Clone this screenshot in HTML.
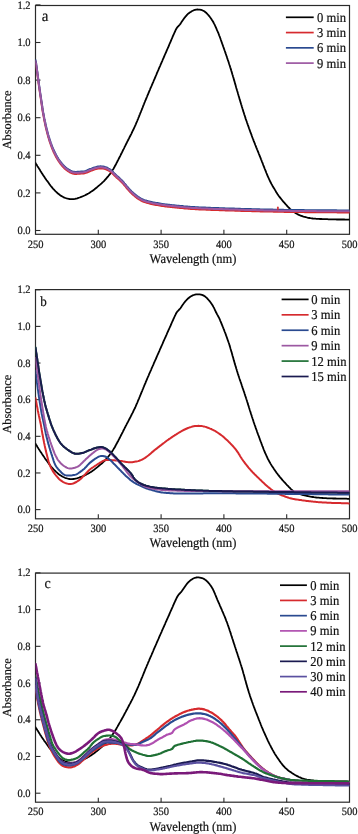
<!DOCTYPE html>
<html><head><meta charset="utf-8"><style>html,body{margin:0;padding:0;background:#fff;width:358px;height:834px;overflow:hidden}svg{display:block;will-change:transform} text{font-family:"Liberation Serif",serif;text-rendering:geometricPrecision;stroke:#222;stroke-width:0.2px;paint-order:stroke}</style></head>
<body><svg width="358" height="834" viewBox="0 0 358 834">
<rect width="358" height="834" fill="#fff"/>
<clipPath id="clipa"><rect x="35.5" y="5.5" width="314.0" height="228.8"/></clipPath>
<rect x="35.5" y="5.5" width="314.0" height="228.8" fill="none" stroke="#2a2a2a" stroke-width="1.2"/>
<line x1="35.5" y1="230.50" x2="40.5" y2="230.50" stroke="#2a2a2a" stroke-width="1.1"/>
<text transform="translate(30.50,234.10) scale(1,1.070)" text-anchor="end" font-size="10.50" fill="#111">0.0</text>
<line x1="35.5" y1="192.90" x2="40.5" y2="192.90" stroke="#2a2a2a" stroke-width="1.1"/>
<text transform="translate(30.50,196.50) scale(1,1.070)" text-anchor="end" font-size="10.50" fill="#111">0.2</text>
<line x1="35.5" y1="155.30" x2="40.5" y2="155.30" stroke="#2a2a2a" stroke-width="1.1"/>
<text transform="translate(30.50,158.90) scale(1,1.070)" text-anchor="end" font-size="10.50" fill="#111">0.4</text>
<line x1="35.5" y1="117.70" x2="40.5" y2="117.70" stroke="#2a2a2a" stroke-width="1.1"/>
<text transform="translate(30.50,121.30) scale(1,1.070)" text-anchor="end" font-size="10.50" fill="#111">0.6</text>
<line x1="35.5" y1="80.10" x2="40.5" y2="80.10" stroke="#2a2a2a" stroke-width="1.1"/>
<text transform="translate(30.50,83.70) scale(1,1.070)" text-anchor="end" font-size="10.50" fill="#111">0.8</text>
<line x1="35.5" y1="42.50" x2="40.5" y2="42.50" stroke="#2a2a2a" stroke-width="1.1"/>
<text transform="translate(30.50,46.10) scale(1,1.070)" text-anchor="end" font-size="10.50" fill="#111">1.0</text>
<line x1="35.5" y1="4.90" x2="40.5" y2="4.90" stroke="#2a2a2a" stroke-width="1.1"/>
<text transform="translate(30.50,8.50) scale(1,1.070)" text-anchor="end" font-size="10.50" fill="#111">1.2</text>
<text transform="translate(35.50,247.50) scale(1,1.070)" text-anchor="middle" font-size="10.50" fill="#111">250</text>
<line x1="98.30" y1="234.3" x2="98.30" y2="229.8" stroke="#2a2a2a" stroke-width="1.1"/>
<text transform="translate(98.30,247.50) scale(1,1.070)" text-anchor="middle" font-size="10.50" fill="#111">300</text>
<line x1="161.10" y1="234.3" x2="161.10" y2="229.8" stroke="#2a2a2a" stroke-width="1.1"/>
<text transform="translate(161.10,247.50) scale(1,1.070)" text-anchor="middle" font-size="10.50" fill="#111">350</text>
<line x1="223.90" y1="234.3" x2="223.90" y2="229.8" stroke="#2a2a2a" stroke-width="1.1"/>
<text transform="translate(223.90,247.50) scale(1,1.070)" text-anchor="middle" font-size="10.50" fill="#111">400</text>
<line x1="286.70" y1="234.3" x2="286.70" y2="229.8" stroke="#2a2a2a" stroke-width="1.1"/>
<text transform="translate(286.70,247.50) scale(1,1.070)" text-anchor="middle" font-size="10.50" fill="#111">450</text>
<text transform="translate(349.50,247.50) scale(1,1.070)" text-anchor="middle" font-size="10.50" fill="#111">500</text>
<path d="M35.5,163.0 36.1,164.0 36.8,165.0 37.4,166.1 38.0,167.1 38.7,168.1 39.3,169.1 40.0,170.1 40.6,171.2 41.3,172.2 41.9,173.2 42.6,174.2 43.2,175.2 43.9,176.2 44.6,177.2 45.2,178.2 45.9,179.2 46.6,180.2 47.3,181.1 48.0,182.1 48.7,183.1 49.4,184.1 50.1,185.0 50.8,186.0 51.6,186.9 52.4,187.9 53.2,188.8 54.0,189.6 54.8,190.5 55.6,191.4 56.5,192.2 57.4,193.0 58.3,193.8 59.3,194.5 60.2,195.2 61.2,195.9 62.3,196.5 63.3,197.1 64.4,197.6 65.5,198.0 66.7,198.4 67.8,198.7 69.0,199.0 70.2,199.1 71.4,199.2 72.6,199.2 73.8,199.1 75.0,198.9 76.1,198.6 77.3,198.3 78.4,197.9 79.6,197.5 80.7,197.1 81.8,196.7 82.9,196.2 84.0,195.7 85.1,195.2 86.2,194.6 87.2,194.1 88.3,193.5 89.3,192.9 90.3,192.2 91.3,191.6 92.3,190.9 93.3,190.2 94.3,189.5 95.2,188.7 96.1,188.0 97.1,187.2 98.0,186.4 98.9,185.6 99.8,184.9 100.7,184.1 101.6,183.3 102.5,182.4 103.4,181.6 104.2,180.8 105.0,179.9 105.9,179.0 106.6,178.1 107.4,177.2 108.2,176.3 108.9,175.3 109.7,174.4 110.4,173.4 111.1,172.4 111.8,171.4 112.4,170.4 113.0,169.4 113.7,168.4 114.3,167.3 114.8,166.3 115.4,165.2 116.0,164.2 116.5,163.1 117.1,162.0 117.6,161.0 118.2,159.9 118.7,158.8 119.3,157.8 119.8,156.7 120.4,155.6 120.9,154.5 121.4,153.5 122.0,152.4 122.5,151.3 123.0,150.2 123.6,149.1 124.1,148.1 124.6,147.0 125.2,145.9 125.7,144.8 126.2,143.8 126.8,142.7 127.3,141.6 127.9,140.5 128.4,139.5 129.0,138.4 129.5,137.3 130.1,136.3 130.6,135.2 131.2,134.1 131.7,133.0 132.2,132.0 132.7,130.9 133.3,129.8 133.8,128.7 134.3,127.6 134.8,126.5 135.3,125.4 135.8,124.3 136.2,123.2 136.7,122.1 137.2,121.0 137.6,119.9 138.1,118.8 138.5,117.7 139.0,116.6 139.4,115.4 139.9,114.3 140.3,113.2 140.8,112.1 141.2,111.0 141.7,109.9 142.1,108.7 142.6,107.6 143.0,106.5 143.4,105.4 143.9,104.3 144.3,103.2 144.8,102.0 145.2,100.9 145.7,99.8 146.2,98.7 146.6,97.6 147.1,96.5 147.5,95.4 148.0,94.3 148.5,93.2 148.9,92.1 149.4,90.9 149.9,89.8 150.3,88.7 150.8,87.6 151.3,86.5 151.8,85.4 152.2,84.3 152.7,83.2 153.2,82.1 153.6,81.0 154.1,79.9 154.6,78.8 155.1,77.7 155.5,76.6 156.0,75.5 156.5,74.4 156.9,73.2 157.4,72.1 157.9,71.0 158.4,69.9 158.8,68.8 159.3,67.7 159.8,66.6 160.3,65.5 160.7,64.4 161.2,63.3 161.7,62.2 162.2,61.1 162.6,60.0 163.1,58.9 163.6,57.8 164.1,56.7 164.5,55.6 165.0,54.5 165.5,53.4 166.0,52.3 166.5,51.2 166.9,50.1 167.4,49.0 167.9,47.9 168.4,46.8 168.9,45.7 169.3,44.5 169.8,43.4 170.3,42.3 170.8,41.2 171.2,40.1 171.7,39.0 172.2,37.9 172.6,36.8 173.1,35.7 173.6,34.6 174.1,33.5 174.6,32.4 175.1,31.3 175.6,30.2 176.1,29.2 176.7,28.1 177.4,27.2 178.2,26.3 179.1,25.4 179.9,24.5 180.6,23.6 181.2,22.6 181.9,21.6 182.6,20.6 183.3,19.6 184.0,18.6 184.7,17.6 185.4,16.7 186.2,15.8 187.0,14.9 187.8,14.0 188.8,13.3 189.7,12.5 190.7,11.9 191.7,11.2 192.8,10.7 193.9,10.2 195.0,9.9 196.2,9.6 197.4,9.5 198.6,9.6 199.8,9.7 201.0,9.9 202.1,10.2 203.2,10.7 204.3,11.3 205.2,12.0 206.1,12.7 207.0,13.6 207.8,14.5 208.6,15.4 209.4,16.3 210.1,17.3 210.8,18.2 211.5,19.2 212.1,20.2 212.8,21.2 213.4,22.3 213.9,23.4 214.5,24.4 215.0,25.5 215.5,26.6 216.0,27.7 216.5,28.8 216.9,29.9 217.4,31.0 217.9,32.1 218.4,33.2 218.8,34.3 219.2,35.5 219.7,36.6 220.1,37.7 220.5,38.8 220.9,40.0 221.3,41.1 221.7,42.2 222.1,43.4 222.5,44.5 222.9,45.6 223.3,46.8 223.7,47.9 224.1,49.0 224.5,50.2 224.9,51.3 225.3,52.4 225.7,53.6 226.1,54.7 226.5,55.9 226.9,57.0 227.2,58.1 227.6,59.3 228.0,60.4 228.4,61.5 228.8,62.7 229.1,63.8 229.5,65.0 229.9,66.1 230.2,67.3 230.6,68.4 231.0,69.6 231.3,70.7 231.7,71.9 232.0,73.0 232.3,74.2 232.7,75.3 233.0,76.5 233.4,77.6 233.7,78.8 234.0,79.9 234.4,81.1 234.7,82.2 235.0,83.4 235.4,84.6 235.7,85.7 236.0,86.9 236.3,88.0 236.7,89.2 237.0,90.3 237.4,91.5 237.7,92.6 238.0,93.8 238.4,95.0 238.7,96.1 239.1,97.3 239.4,98.4 239.7,99.6 240.1,100.7 240.4,101.9 240.8,103.0 241.1,104.2 241.5,105.3 241.8,106.5 242.2,107.6 242.5,108.8 242.9,109.9 243.2,111.1 243.6,112.2 244.0,113.4 244.3,114.5 244.7,115.6 245.1,116.8 245.4,117.9 245.8,119.1 246.2,120.2 246.6,121.3 247.0,122.5 247.4,123.6 247.8,124.8 248.2,125.9 248.6,127.0 249.0,128.2 249.4,129.3 249.8,130.4 250.2,131.5 250.6,132.7 251.1,133.8 251.5,134.9 251.9,136.1 252.3,137.2 252.7,138.3 253.2,139.4 253.6,140.6 254.0,141.7 254.5,142.8 254.9,143.9 255.3,145.0 255.8,146.1 256.2,147.3 256.7,148.4 257.1,149.5 257.6,150.6 258.0,151.7 258.5,152.8 258.9,154.0 259.4,155.1 259.8,156.2 260.3,157.3 260.7,158.4 261.1,159.5 261.6,160.7 262.0,161.8 262.5,162.9 262.9,164.0 263.3,165.1 263.8,166.3 264.2,167.4 264.6,168.5 265.1,169.6 265.5,170.7 266.0,171.9 266.4,173.0 266.9,174.1 267.3,175.2 267.8,176.3 268.3,177.4 268.8,178.5 269.3,179.6 269.8,180.7 270.3,181.8 270.9,182.8 271.4,183.9 272.0,184.9 272.6,186.0 273.2,187.0 273.8,188.1 274.5,189.1 275.1,190.1 275.7,191.1 276.3,192.2 277.0,193.2 277.6,194.2 278.3,195.2 279.0,196.2 279.7,197.1 280.5,198.1 281.2,199.0 282.0,200.0 282.7,200.9 283.5,201.8 284.3,202.7 285.1,203.6 285.9,204.5 286.7,205.4 287.5,206.3 288.3,207.2 289.2,208.0 290.0,208.8 290.9,209.6 291.9,210.4 292.8,211.1 293.8,211.9 294.8,212.5 295.8,213.2 296.8,213.8 297.9,214.4 298.9,214.9 300.1,215.4 301.2,215.8 302.3,216.2 303.4,216.6 304.6,216.9 305.8,217.2 306.9,217.5 308.1,217.8 309.3,218.0 310.5,218.2 311.7,218.3 312.9,218.5 314.1,218.6 315.3,218.7 316.5,218.8 317.7,218.8 318.9,218.9 320.1,219.0 321.3,219.0 322.5,219.1 323.7,219.1 324.9,219.1 326.1,219.2 327.3,219.2 328.5,219.3 329.7,219.3 330.9,219.3 332.1,219.4 333.3,219.4 334.5,219.4 335.7,219.4 336.9,219.5 338.1,219.5 339.3,219.5 340.5,219.5 341.7,219.5 342.9,219.5 344.1,219.5 345.3,219.6 346.5,219.6 347.7,219.6 348.9,219.6 349.5,219.6" fill="none" stroke="#000000" stroke-width="1.80" stroke-linejoin="round" stroke-linecap="round" clip-path="url(#clipa)"/>
<path d="M35.5,62.1 35.7,63.3 36.0,64.5 36.2,65.6 36.3,66.8 36.5,68.0 36.7,69.2 36.9,70.4 37.0,71.6 37.2,72.8 37.4,74.0 37.5,75.2 37.7,76.4 37.8,77.6 38.0,78.7 38.1,79.9 38.3,81.1 38.5,82.3 38.6,83.5 38.8,84.7 38.9,85.9 39.1,87.1 39.3,88.3 39.5,89.5 39.6,90.7 39.8,91.9 40.0,93.0 40.1,94.2 40.3,95.4 40.5,96.6 40.7,97.8 40.9,99.0 41.0,100.2 41.2,101.4 41.4,102.6 41.6,103.8 41.7,105.0 41.9,106.1 42.1,107.3 42.3,108.5 42.4,109.7 42.6,110.9 42.8,112.1 43.0,113.3 43.2,114.5 43.5,115.6 43.7,116.8 43.9,118.0 44.1,119.2 44.3,120.4 44.6,121.5 44.8,122.7 45.1,123.9 45.3,125.1 45.6,126.3 45.8,127.4 46.1,128.6 46.4,129.8 46.7,130.9 47.0,132.1 47.3,133.3 47.6,134.4 47.9,135.6 48.2,136.8 48.6,137.9 48.9,139.1 49.3,140.2 49.6,141.4 50.0,142.5 50.4,143.6 50.8,144.8 51.2,145.9 51.6,147.0 52.0,148.2 52.5,149.3 53.0,150.4 53.4,151.5 53.9,152.6 54.5,153.7 55.0,154.7 55.5,155.8 56.1,156.9 56.7,157.9 57.3,159.0 57.9,160.0 58.5,161.0 59.2,162.0 59.9,163.0 60.6,164.0 61.4,164.9 62.1,165.8 62.9,166.7 63.8,167.6 64.6,168.5 65.5,169.3 66.4,170.0 67.4,170.7 68.4,171.4 69.4,172.0 70.5,172.6 71.6,173.1 72.7,173.5 73.9,173.7 75.1,173.9 76.3,173.9 77.5,173.8 78.7,173.8 79.9,173.7 81.1,173.6 82.3,173.5 83.5,173.4 84.6,173.2 85.8,172.9 86.9,172.5 88.0,172.0 89.1,171.5 90.2,171.0 91.4,170.6 92.5,170.2 93.6,169.8 94.8,169.4 95.9,169.1 97.1,168.8 98.2,168.5 99.4,168.4 100.6,168.3 101.8,168.4 103.0,168.6 104.2,168.8 105.3,169.1 106.5,169.5 107.6,170.0 108.6,170.6 109.7,171.2 110.6,171.9 111.6,172.6 112.5,173.5 113.3,174.3 114.1,175.2 115.0,176.0 115.9,176.9 116.7,177.7 117.7,178.5 118.6,179.3 119.5,180.1 120.3,180.9 121.2,181.7 122.0,182.6 122.9,183.4 123.7,184.4 124.4,185.3 125.2,186.2 126.0,187.1 126.7,188.1 127.5,189.0 128.3,189.9 129.1,190.8 129.9,191.7 130.7,192.5 131.6,193.4 132.5,194.2 133.3,195.0 134.3,195.8 135.2,196.6 136.1,197.3 137.1,198.1 138.1,198.8 139.1,199.4 140.1,200.0 141.1,200.6 142.2,201.2 143.3,201.6 144.4,202.1 145.6,202.4 146.7,202.8 147.9,203.1 149.0,203.4 150.2,203.7 151.4,204.0 152.6,204.3 153.7,204.5 154.9,204.7 156.1,204.9 157.3,205.1 158.5,205.3 159.7,205.5 160.9,205.7 162.0,205.9 163.2,206.1 164.4,206.2 165.6,206.4 166.8,206.5 168.0,206.7 169.2,206.8 170.4,206.9 171.6,207.1 172.8,207.2 174.0,207.3 175.2,207.4 176.4,207.6 177.6,207.7 178.8,207.8 180.0,207.9 181.2,208.0 182.4,208.1 183.6,208.3 184.8,208.4 186.0,208.5 187.2,208.6 188.4,208.7 189.6,208.8 190.8,208.9 192.0,209.0 193.2,209.0 194.4,209.1 195.6,209.2 196.8,209.2 198.0,209.3 199.2,209.4 200.4,209.4 201.6,209.5 202.8,209.5 204.0,209.6 205.2,209.6 206.4,209.7 207.6,209.7 208.8,209.8 210.0,209.8 211.2,209.9 212.4,209.9 213.6,210.0 214.8,210.0 216.0,210.0 217.2,210.1 218.4,210.1 219.6,210.2 220.8,210.2 222.0,210.2 223.2,210.3 224.4,210.3 225.6,210.4 226.8,210.4 228.0,210.4 229.2,210.5 230.4,210.5 231.6,210.6 232.8,210.6 234.0,210.6 235.2,210.7 236.4,210.7 237.6,210.7 238.8,210.8 240.0,210.8 241.2,210.9 242.4,210.9 243.6,210.9 244.9,211.0 246.1,211.0 247.3,211.0 248.5,211.1 249.7,211.1 250.9,211.1 252.1,211.2 253.3,211.2 254.5,211.2 255.7,211.2 256.9,211.3 258.1,211.3 259.3,211.3 260.5,211.4 261.7,211.4 262.9,211.4 264.1,211.5 265.3,211.5 266.5,211.5 267.7,211.5 268.9,211.6 270.1,211.6 271.3,211.6 272.5,211.6 273.7,211.7 274.9,211.7 276.1,211.7 277.3,211.7 278.5,211.8 279.7,211.8 280.9,211.8 282.1,211.8 283.3,211.8 284.5,211.9 285.7,211.9 286.9,211.9 288.1,211.9 289.4,211.9 290.6,212.0 291.8,212.0 293.0,212.0 294.2,212.0 295.4,212.0 296.6,212.1 297.8,212.1 299.0,212.1 300.2,212.1 301.4,212.1 302.6,212.1 303.8,212.1 305.0,212.2 306.2,212.2 307.4,212.2 308.6,212.2 309.8,212.2 311.0,212.2 312.2,212.2 313.4,212.2 314.6,212.2 315.8,212.2 317.0,212.3 318.2,212.3 319.4,212.3 320.6,212.3 321.8,212.3 323.0,212.3 324.2,212.3 325.4,212.3 326.6,212.3 327.8,212.3 329.0,212.3 330.3,212.3 331.5,212.3 332.7,212.3 333.9,212.3 335.1,212.3 336.3,212.3 337.5,212.4 338.7,212.4 339.9,212.4 341.1,212.4 342.3,212.4 343.5,212.4 344.7,212.4 345.9,212.4 347.1,212.4 348.3,212.4 349.5,212.4" fill="none" stroke="#d62a2e" stroke-width="2.00" stroke-linejoin="round" stroke-linecap="round" clip-path="url(#clipa)"/>
<path d="M35.5,60.1 35.7,61.3 36.0,62.5 36.2,63.6 36.3,64.8 36.5,66.0 36.7,67.2 36.9,68.4 37.0,69.6 37.2,70.8 37.4,72.0 37.5,73.2 37.7,74.4 37.8,75.6 38.0,76.7 38.1,77.9 38.3,79.1 38.5,80.3 38.6,81.5 38.8,82.7 38.9,83.9 39.1,85.1 39.3,86.3 39.5,87.5 39.6,88.7 39.8,89.9 40.0,91.0 40.1,92.2 40.3,93.4 40.5,94.6 40.7,95.8 40.9,97.0 41.0,98.2 41.2,99.4 41.4,100.6 41.6,101.8 41.7,103.0 41.9,104.1 42.1,105.3 42.3,106.5 42.4,107.7 42.6,108.9 42.8,110.1 43.0,111.3 43.2,112.5 43.5,113.6 43.7,114.8 43.9,116.0 44.1,117.2 44.3,118.4 44.6,119.5 44.8,120.7 45.1,121.9 45.3,123.1 45.6,124.3 45.8,125.4 46.1,126.6 46.4,127.8 46.7,128.9 47.0,130.1 47.3,131.3 47.6,132.4 47.9,133.6 48.2,134.8 48.6,135.9 48.9,137.1 49.3,138.2 49.6,139.4 50.0,140.5 50.4,141.6 50.8,142.8 51.2,143.9 51.6,145.0 52.0,146.2 52.5,147.3 53.0,148.4 53.4,149.5 53.9,150.6 54.5,151.7 55.0,152.7 55.5,153.8 56.1,154.9 56.7,155.9 57.3,157.0 57.9,158.0 58.5,159.0 59.2,160.0 59.9,161.0 60.6,162.0 61.4,162.9 62.1,163.8 62.9,164.7 63.8,165.6 64.6,166.5 65.5,167.3 66.4,168.0 67.4,168.7 68.4,169.4 69.4,170.0 70.5,170.6 71.6,171.1 72.7,171.5 73.9,171.7 75.1,171.9 76.3,171.9 77.5,171.8 78.7,171.8 79.9,171.7 81.1,171.6 82.3,171.5 83.5,171.4 84.6,171.2 85.8,170.9 86.9,170.5 88.0,170.0 89.1,169.5 90.2,169.0 91.4,168.6 92.5,168.2 93.6,167.8 94.8,167.4 95.9,167.1 97.1,166.8 98.2,166.5 99.4,166.4 100.6,166.3 101.8,166.4 103.0,166.6 104.2,166.8 105.3,167.1 106.5,167.5 107.6,168.0 108.6,168.6 109.7,169.2 110.6,169.9 111.6,170.6 112.5,171.5 113.3,172.3 114.1,173.2 115.0,174.0 115.9,174.9 116.7,175.7 117.7,176.5 118.6,177.3 119.5,178.1 120.3,178.9 121.2,179.7 122.0,180.6 122.9,181.4 123.7,182.4 124.4,183.3 125.2,184.2 126.0,185.1 126.7,186.1 127.5,187.0 128.3,187.9 129.1,188.8 129.9,189.7 130.7,190.5 131.6,191.4 132.5,192.2 133.3,193.0 134.3,193.8 135.2,194.6 136.1,195.3 137.1,196.1 138.1,196.8 139.1,197.4 140.1,198.0 141.1,198.6 142.2,199.2 143.3,199.6 144.4,200.1 145.6,200.4 146.7,200.8 147.9,201.1 149.0,201.4 150.2,201.7 151.4,202.0 152.6,202.3 153.7,202.5 154.9,202.7 156.1,202.9 157.3,203.1 158.5,203.3 159.7,203.5 160.9,203.7 162.0,203.9 163.2,204.1 164.4,204.2 165.6,204.4 166.8,204.5 168.0,204.7 169.2,204.8 170.4,204.9 171.6,205.1 172.8,205.2 174.0,205.3 175.2,205.4 176.4,205.6 177.6,205.7 178.8,205.8 180.0,205.9 181.2,206.0 182.4,206.1 183.6,206.3 184.8,206.4 186.0,206.5 187.2,206.6 188.4,206.7 189.6,206.8 190.8,206.9 192.0,207.0 193.2,207.0 194.4,207.1 195.6,207.2 196.8,207.2 198.0,207.3 199.2,207.4 200.4,207.4 201.6,207.5 202.8,207.5 204.0,207.6 205.2,207.6 206.4,207.7 207.6,207.7 208.8,207.8 210.0,207.8 211.2,207.9 212.4,207.9 213.6,208.0 214.8,208.0 216.0,208.0 217.2,208.1 218.4,208.1 219.6,208.2 220.8,208.2 222.0,208.2 223.2,208.3 224.4,208.3 225.6,208.4 226.8,208.4 228.0,208.4 229.2,208.5 230.4,208.5 231.6,208.6 232.8,208.6 234.0,208.6 235.2,208.7 236.4,208.7 237.6,208.7 238.8,208.8 240.0,208.8 241.2,208.9 242.4,208.9 243.6,208.9 244.9,209.0 246.1,209.0 247.3,209.0 248.5,209.1 249.7,209.1 250.9,209.1 252.1,209.2 253.3,209.2 254.5,209.2 255.7,209.2 256.9,209.3 258.1,209.3 259.3,209.3 260.5,209.4 261.7,209.4 262.9,209.4 264.1,209.5 265.3,209.5 266.5,209.5 267.7,209.5 268.9,209.6 270.1,209.6 271.3,209.6 272.5,209.6 273.7,209.7 274.9,209.7 276.1,209.7 277.3,209.7 278.5,209.8 279.7,209.8 280.9,209.8 282.1,209.8 283.3,209.8 284.5,209.9 285.7,209.9 286.9,209.9 288.1,209.9 289.4,209.9 290.6,210.0 291.8,210.0 293.0,210.0 294.2,210.0 295.4,210.0 296.6,210.1 297.8,210.1 299.0,210.1 300.2,210.1 301.4,210.1 302.6,210.1 303.8,210.1 305.0,210.2 306.2,210.2 307.4,210.2 308.6,210.2 309.8,210.2 311.0,210.2 312.2,210.2 313.4,210.2 314.6,210.2 315.8,210.2 317.0,210.3 318.2,210.3 319.4,210.3 320.6,210.3 321.8,210.3 323.0,210.3 324.2,210.3 325.4,210.3 326.6,210.3 327.8,210.3 329.0,210.3 330.3,210.3 331.5,210.3 332.7,210.3 333.9,210.3 335.1,210.3 336.3,210.3 337.5,210.4 338.7,210.4 339.9,210.4 341.1,210.4 342.3,210.4 343.5,210.4 344.7,210.4 345.9,210.4 347.1,210.4 348.3,210.4 349.5,210.4" fill="none" stroke="#2a4a90" stroke-width="2.00" stroke-linejoin="round" stroke-linecap="round" clip-path="url(#clipa)"/>
<path d="M35.5,61.0 35.7,62.2 36.0,63.4 36.2,64.5 36.3,65.7 36.5,66.9 36.7,68.1 36.9,69.3 37.0,70.5 37.2,71.7 37.4,72.9 37.5,74.1 37.7,75.3 37.8,76.5 38.0,77.6 38.1,78.8 38.3,80.0 38.5,81.2 38.6,82.4 38.8,83.6 38.9,84.8 39.1,86.0 39.3,87.2 39.5,88.4 39.6,89.6 39.8,90.8 40.0,91.9 40.1,93.1 40.3,94.3 40.5,95.5 40.7,96.7 40.9,97.9 41.0,99.1 41.2,100.3 41.4,101.5 41.6,102.7 41.7,103.9 41.9,105.0 42.1,106.2 42.3,107.4 42.4,108.6 42.6,109.8 42.8,111.0 43.0,112.2 43.2,113.4 43.5,114.5 43.7,115.7 43.9,116.9 44.1,118.1 44.3,119.3 44.6,120.4 44.8,121.6 45.1,122.8 45.3,124.0 45.6,125.2 45.8,126.3 46.1,127.5 46.4,128.7 46.7,129.8 47.0,131.0 47.3,132.2 47.6,133.3 47.9,134.5 48.2,135.7 48.6,136.8 48.9,138.0 49.3,139.1 49.6,140.3 50.0,141.4 50.4,142.5 50.8,143.7 51.2,144.8 51.6,145.9 52.0,147.1 52.5,148.2 53.0,149.3 53.4,150.4 53.9,151.5 54.5,152.6 55.0,153.6 55.5,154.7 56.1,155.8 56.7,156.8 57.3,157.9 57.9,158.9 58.5,159.9 59.2,160.9 59.9,161.9 60.6,162.9 61.4,163.8 62.1,164.7 62.9,165.6 63.8,166.5 64.6,167.4 65.5,168.2 66.4,168.9 67.4,169.6 68.4,170.3 69.4,170.9 70.5,171.5 71.6,172.0 72.7,172.4 73.9,172.6 75.1,172.8 76.3,172.8 77.5,172.7 78.7,172.7 79.9,172.6 81.1,172.5 82.3,172.4 83.5,172.3 84.6,172.1 85.8,171.8 86.9,171.4 88.0,170.9 89.1,170.4 90.2,169.9 91.4,169.5 92.5,169.1 93.6,168.7 94.8,168.3 95.9,168.0 97.1,167.7 98.2,167.4 99.4,167.3 100.6,167.2 101.8,167.3 103.0,167.5 104.2,167.7 105.3,168.0 106.5,168.4 107.6,168.9 108.6,169.5 109.7,170.1 110.6,170.8 111.6,171.5 112.5,172.4 113.3,173.2 114.1,174.1 115.0,174.9 115.9,175.8 116.7,176.6 117.7,177.4 118.6,178.2 119.5,179.0 120.3,179.8 121.2,180.6 122.0,181.5 122.9,182.3 123.7,183.3 124.4,184.2 125.2,185.1 126.0,186.0 126.7,187.0 127.5,187.9 128.3,188.8 129.1,189.7 129.9,190.6 130.7,191.4 131.6,192.3 132.5,193.1 133.3,193.9 134.3,194.7 135.2,195.5 136.1,196.2 137.1,197.0 138.1,197.7 139.1,198.3 140.1,198.9 141.1,199.5 142.2,200.1 143.3,200.5 144.4,201.0 145.6,201.3 146.7,201.7 147.9,202.0 149.0,202.3 150.2,202.6 151.4,202.9 152.6,203.2 153.7,203.4 154.9,203.6 156.1,203.8 157.3,204.0 158.5,204.2 159.7,204.4 160.9,204.6 162.0,204.8 163.2,205.0 164.4,205.1 165.6,205.3 166.8,205.4 168.0,205.6 169.2,205.7 170.4,205.8 171.6,206.0 172.8,206.1 174.0,206.2 175.2,206.3 176.4,206.5 177.6,206.6 178.8,206.7 180.0,206.8 181.2,206.9 182.4,207.0 183.6,207.2 184.8,207.3 186.0,207.4 187.2,207.5 188.4,207.6 189.6,207.7 190.8,207.8 192.0,207.9 193.2,207.9 194.4,208.0 195.6,208.1 196.8,208.1 198.0,208.2 199.2,208.3 200.4,208.3 201.6,208.4 202.8,208.4 204.0,208.5 205.2,208.5 206.4,208.6 207.6,208.6 208.8,208.7 210.0,208.7 211.2,208.8 212.4,208.8 213.6,208.9 214.8,208.9 216.0,208.9 217.2,209.0 218.4,209.0 219.6,209.1 220.8,209.1 222.0,209.1 223.2,209.2 224.4,209.2 225.6,209.3 226.8,209.3 228.0,209.3 229.2,209.4 230.4,209.4 231.6,209.5 232.8,209.5 234.0,209.5 235.2,209.6 236.4,209.6 237.6,209.6 238.8,209.7 240.0,209.7 241.2,209.8 242.4,209.8 243.6,209.8 244.9,209.9 246.1,209.9 247.3,209.9 248.5,210.0 249.7,210.0 250.9,210.0 252.1,210.1 253.3,210.1 254.5,210.1 255.7,210.1 256.9,210.2 258.1,210.2 259.3,210.2 260.5,210.3 261.7,210.3 262.9,210.3 264.1,210.4 265.3,210.4 266.5,210.4 267.7,210.4 268.9,210.5 270.1,210.5 271.3,210.5 272.5,210.5 273.7,210.6 274.9,210.6 276.1,210.6 277.3,210.6 278.5,210.7 279.7,210.7 280.9,210.7 282.1,210.7 283.3,210.7 284.5,210.8 285.7,210.8 286.9,210.8 288.1,210.8 289.4,210.8 290.6,210.9 291.8,210.9 293.0,210.9 294.2,210.9 295.4,210.9 296.6,211.0 297.8,211.0 299.0,211.0 300.2,211.0 301.4,211.0 302.6,211.0 303.8,211.0 305.0,211.1 306.2,211.1 307.4,211.1 308.6,211.1 309.8,211.1 311.0,211.1 312.2,211.1 313.4,211.1 314.6,211.1 315.8,211.1 317.0,211.2 318.2,211.2 319.4,211.2 320.6,211.2 321.8,211.2 323.0,211.2 324.2,211.2 325.4,211.2 326.6,211.2 327.8,211.2 329.0,211.2 330.3,211.2 331.5,211.2 332.7,211.2 333.9,211.2 335.1,211.2 336.3,211.2 337.5,211.3 338.7,211.3 339.9,211.3 341.1,211.3 342.3,211.3 343.5,211.3 344.7,211.3 345.9,211.3 347.1,211.3 348.3,211.3 349.5,211.3" fill="none" stroke="#9c58a2" stroke-width="2.00" stroke-linejoin="round" stroke-linecap="round" clip-path="url(#clipa)"/>
<path d="M277.9,209.5 277.9,207.3" fill="none" stroke="#d62a2e" stroke-width="1.60" stroke-linejoin="round" stroke-linecap="round" clip-path="url(#clipa)"/>
<text transform="translate(193.00,262.70) scale(1,1.070)" text-anchor="middle" font-size="12.50" fill="#111">Wavelength (nm)</text>
<text transform="translate(10.90,119.90) scale(1,1.000) rotate(-90)" text-anchor="middle" font-size="12.30" fill="#111">Absorbance</text>
<text transform="translate(41.80,20.90) scale(1,1.070)" font-size="15.00" fill="#111">a</text>
<line x1="285.9" y1="17.30" x2="313.7" y2="17.30" stroke="#000000" stroke-width="1.7"/>
<text transform="translate(317.00,21.90) scale(1,1.070)" font-size="12.60" fill="#111">0 min</text>
<line x1="285.9" y1="32.57" x2="313.7" y2="32.57" stroke="#d62a2e" stroke-width="1.7"/>
<text transform="translate(317.00,37.17) scale(1,1.070)" font-size="12.60" fill="#111">3 min</text>
<line x1="285.9" y1="47.84" x2="313.7" y2="47.84" stroke="#2a4a90" stroke-width="1.7"/>
<text transform="translate(317.00,52.44) scale(1,1.070)" font-size="12.60" fill="#111">6 min</text>
<line x1="285.9" y1="63.11" x2="313.7" y2="63.11" stroke="#9c58a2" stroke-width="1.7"/>
<text transform="translate(317.00,67.71) scale(1,1.070)" font-size="12.60" fill="#111">9 min</text>
<clipPath id="clipb"><rect x="35.5" y="289.6" width="314.0" height="229.2"/></clipPath>
<rect x="35.5" y="289.6" width="314.0" height="229.2" fill="none" stroke="#2a2a2a" stroke-width="1.2"/>
<line x1="35.5" y1="509.60" x2="40.5" y2="509.60" stroke="#2a2a2a" stroke-width="1.1"/>
<text transform="translate(30.50,513.20) scale(1,1.070)" text-anchor="end" font-size="10.50" fill="#111">0.0</text>
<line x1="35.5" y1="472.96" x2="40.5" y2="472.96" stroke="#2a2a2a" stroke-width="1.1"/>
<text transform="translate(30.50,476.56) scale(1,1.070)" text-anchor="end" font-size="10.50" fill="#111">0.2</text>
<line x1="35.5" y1="436.32" x2="40.5" y2="436.32" stroke="#2a2a2a" stroke-width="1.1"/>
<text transform="translate(30.50,439.92) scale(1,1.070)" text-anchor="end" font-size="10.50" fill="#111">0.4</text>
<line x1="35.5" y1="399.68" x2="40.5" y2="399.68" stroke="#2a2a2a" stroke-width="1.1"/>
<text transform="translate(30.50,403.28) scale(1,1.070)" text-anchor="end" font-size="10.50" fill="#111">0.6</text>
<line x1="35.5" y1="363.04" x2="40.5" y2="363.04" stroke="#2a2a2a" stroke-width="1.1"/>
<text transform="translate(30.50,366.64) scale(1,1.070)" text-anchor="end" font-size="10.50" fill="#111">0.8</text>
<line x1="35.5" y1="326.40" x2="40.5" y2="326.40" stroke="#2a2a2a" stroke-width="1.1"/>
<text transform="translate(30.50,330.00) scale(1,1.070)" text-anchor="end" font-size="10.50" fill="#111">1.0</text>
<line x1="35.5" y1="289.76" x2="40.5" y2="289.76" stroke="#2a2a2a" stroke-width="1.1"/>
<text transform="translate(30.50,293.36) scale(1,1.070)" text-anchor="end" font-size="10.50" fill="#111">1.2</text>
<text transform="translate(35.50,532.00) scale(1,1.070)" text-anchor="middle" font-size="10.50" fill="#111">250</text>
<line x1="98.30" y1="518.8" x2="98.30" y2="514.3" stroke="#2a2a2a" stroke-width="1.1"/>
<text transform="translate(98.30,532.00) scale(1,1.070)" text-anchor="middle" font-size="10.50" fill="#111">300</text>
<line x1="161.10" y1="518.8" x2="161.10" y2="514.3" stroke="#2a2a2a" stroke-width="1.1"/>
<text transform="translate(161.10,532.00) scale(1,1.070)" text-anchor="middle" font-size="10.50" fill="#111">350</text>
<line x1="223.90" y1="518.8" x2="223.90" y2="514.3" stroke="#2a2a2a" stroke-width="1.1"/>
<text transform="translate(223.90,532.00) scale(1,1.070)" text-anchor="middle" font-size="10.50" fill="#111">400</text>
<line x1="286.70" y1="518.8" x2="286.70" y2="514.3" stroke="#2a2a2a" stroke-width="1.1"/>
<text transform="translate(286.70,532.00) scale(1,1.070)" text-anchor="middle" font-size="10.50" fill="#111">450</text>
<text transform="translate(349.50,532.00) scale(1,1.070)" text-anchor="middle" font-size="10.50" fill="#111">500</text>
<path d="M35.5,443.8 36.1,444.8 36.8,445.8 37.4,446.9 38.1,447.9 38.7,448.9 39.4,449.9 40.0,450.9 40.7,451.9 41.4,452.9 42.0,453.9 42.7,454.9 43.4,455.9 44.1,456.9 44.7,457.9 45.4,458.9 46.1,459.9 46.8,460.8 47.5,461.8 48.2,462.8 48.9,463.8 49.7,464.7 50.4,465.7 51.1,466.6 51.9,467.5 52.7,468.4 53.5,469.3 54.3,470.2 55.2,471.0 56.1,471.9 57.0,472.7 57.9,473.5 58.8,474.2 59.8,474.9 60.8,475.6 61.8,476.2 62.8,476.8 63.9,477.3 65.0,477.8 66.2,478.2 67.3,478.5 68.5,478.8 69.7,479.0 70.9,479.1 72.1,479.1 73.3,479.0 74.4,478.9 75.6,478.6 76.8,478.4 77.9,478.0 79.1,477.6 80.2,477.2 81.3,476.8 82.4,476.4 83.6,475.9 84.6,475.4 85.7,474.9 86.8,474.3 87.9,473.8 88.9,473.2 89.9,472.6 91.0,471.9 92.0,471.3 92.9,470.6 93.9,469.9 94.9,469.1 95.8,468.4 96.8,467.6 97.7,466.9 98.6,466.1 99.5,465.3 100.4,464.6 101.4,463.8 102.3,463.0 103.1,462.2 104.0,461.3 104.9,460.5 105.7,459.6 106.5,458.7 107.3,457.8 108.1,456.9 108.8,456.0 109.6,455.0 110.3,454.1 111.0,453.1 111.7,452.1 112.4,451.1 113.0,450.1 113.6,449.1 114.3,448.1 114.9,447.0 115.4,446.0 116.0,444.9 116.6,443.8 117.1,442.8 117.7,441.7 118.3,440.7 118.8,439.6 119.4,438.5 119.9,437.5 120.5,436.4 121.0,435.3 121.6,434.2 122.1,433.2 122.7,432.1 123.2,431.0 123.7,430.0 124.3,428.9 124.8,427.8 125.4,426.7 125.9,425.7 126.5,424.6 127.0,423.5 127.6,422.5 128.2,421.4 128.7,420.4 129.3,419.3 129.8,418.2 130.4,417.2 130.9,416.1 131.5,415.0 132.0,413.9 132.6,412.9 133.1,411.8 133.6,410.7 134.1,409.6 134.7,408.5 135.2,407.5 135.7,406.4 136.1,405.3 136.6,404.2 137.1,403.1 137.6,401.9 138.0,400.8 138.5,399.7 139.0,398.6 139.4,397.5 139.9,396.4 140.3,395.3 140.8,394.2 141.2,393.1 141.7,391.9 142.2,390.8 142.6,389.7 143.1,388.6 143.5,387.5 144.0,386.4 144.4,385.3 144.9,384.2 145.4,383.1 145.8,381.9 146.3,380.8 146.8,379.7 147.2,378.6 147.7,377.5 148.2,376.4 148.7,375.3 149.1,374.2 149.6,373.1 150.1,372.0 150.6,370.9 151.1,369.8 151.5,368.7 152.0,367.6 152.5,366.5 153.0,365.4 153.5,364.3 153.9,363.2 154.4,362.1 154.9,361.0 155.4,359.9 155.9,358.8 156.4,357.7 156.8,356.6 157.3,355.5 157.8,354.4 158.3,353.3 158.8,352.2 159.3,351.1 159.7,350.0 160.2,348.9 160.7,347.8 161.2,346.7 161.7,345.6 162.2,344.5 162.7,343.4 163.1,342.3 163.6,341.2 164.1,340.1 164.6,339.0 165.1,337.9 165.6,336.8 166.1,335.7 166.6,334.6 167.0,333.5 167.5,332.4 168.0,331.3 168.5,330.2 169.0,329.1 169.5,328.0 170.0,326.9 170.5,325.8 171.0,324.7 171.4,323.6 171.9,322.5 172.4,321.4 172.9,320.3 173.4,319.2 173.9,318.1 174.4,317.0 174.9,315.9 175.4,314.9 175.9,313.8 176.5,312.7 177.2,311.7 178.0,310.9 178.8,310.0 179.6,309.2 180.4,308.2 181.1,307.2 181.7,306.2 182.4,305.2 183.1,304.3 183.8,303.3 184.6,302.3 185.3,301.4 186.1,300.5 186.9,299.6 187.7,298.8 188.7,298.0 189.6,297.3 190.6,296.6 191.6,296.0 192.7,295.4 193.8,295.0 195.0,294.6 196.1,294.4 197.3,294.3 198.5,294.3 199.7,294.4 200.9,294.6 202.0,294.9 203.2,295.4 204.2,295.9 205.2,296.6 206.1,297.4 207.0,298.2 207.8,299.1 208.6,300.0 209.4,300.9 210.1,301.8 210.8,302.8 211.5,303.8 212.2,304.8 212.8,305.8 213.4,306.9 214.0,307.9 214.5,309.0 215.0,310.1 215.5,311.2 216.0,312.3 216.6,313.3 217.1,314.4 217.7,315.4 218.3,316.5 218.9,317.5 219.4,318.6 219.9,319.7 220.3,320.8 220.8,321.9 221.3,323.1 221.7,324.2 222.2,325.3 222.6,326.4 223.1,327.5 223.5,328.6 224.0,329.7 224.4,330.9 224.8,332.0 225.3,333.1 225.7,334.2 226.1,335.4 226.5,336.5 226.9,337.6 227.3,338.7 227.7,339.9 228.1,341.0 228.5,342.2 228.9,343.3 229.3,344.4 229.6,345.6 230.0,346.7 230.3,347.9 230.6,349.0 231.0,350.2 231.3,351.4 231.7,352.5 232.0,353.7 232.3,354.8 232.6,356.0 233.0,357.1 233.3,358.3 233.6,359.4 233.9,360.6 234.3,361.8 234.6,362.9 234.9,364.1 235.3,365.2 235.6,366.4 236.0,367.5 236.3,368.7 236.7,369.8 237.0,371.0 237.4,372.1 237.7,373.3 238.1,374.4 238.5,375.6 238.9,376.7 239.2,377.8 239.6,379.0 240.0,380.1 240.4,381.3 240.8,382.4 241.2,383.5 241.6,384.7 241.9,385.8 242.3,386.9 242.7,388.1 243.1,389.2 243.5,390.4 243.9,391.5 244.3,392.6 244.6,393.8 245.0,394.9 245.4,396.1 245.8,397.2 246.1,398.3 246.5,399.5 246.9,400.6 247.2,401.8 247.6,402.9 247.9,404.1 248.3,405.2 248.7,406.4 249.0,407.5 249.4,408.7 249.7,409.8 250.1,411.0 250.5,412.1 250.8,413.2 251.2,414.4 251.6,415.5 251.9,416.7 252.3,417.8 252.7,419.0 253.1,420.1 253.4,421.2 253.8,422.4 254.2,423.5 254.6,424.7 255.0,425.8 255.4,426.9 255.8,428.1 256.2,429.2 256.6,430.3 257.0,431.5 257.4,432.6 257.8,433.7 258.2,434.8 258.7,436.0 259.1,437.1 259.5,438.2 259.9,439.4 260.3,440.5 260.7,441.6 261.2,442.7 261.6,443.9 262.0,445.0 262.4,446.1 262.9,447.2 263.3,448.4 263.7,449.5 264.2,450.6 264.6,451.7 265.1,452.8 265.6,453.9 266.1,455.0 266.6,456.1 267.1,457.2 267.6,458.3 268.1,459.3 268.7,460.4 269.3,461.5 269.9,462.5 270.5,463.6 271.1,464.6 271.7,465.6 272.3,466.6 273.0,467.6 273.7,468.6 274.3,469.6 275.0,470.6 275.7,471.6 276.4,472.6 277.2,473.5 277.9,474.5 278.6,475.4 279.4,476.4 280.1,477.3 280.9,478.2 281.7,479.1 282.5,480.1 283.3,481.0 284.1,481.9 284.9,482.7 285.7,483.6 286.5,484.5 287.3,485.4 288.2,486.2 289.0,487.1 289.9,487.9 290.7,488.8 291.6,489.6 292.5,490.4 293.4,491.2 294.4,491.9 295.4,492.5 296.5,493.0 297.6,493.4 298.8,493.8 299.9,494.2 301.1,494.5 302.2,494.8 303.4,495.2 304.5,495.4 305.7,495.7 306.9,496.0 308.1,496.2 309.2,496.4 310.4,496.6 311.6,496.8 312.8,497.0 314.0,497.2 315.2,497.3 316.4,497.5 317.6,497.6 318.8,497.7 320.0,497.8 321.2,497.9 322.4,498.0 323.6,498.1 324.8,498.1 326.0,498.2 327.2,498.3 328.4,498.3 329.6,498.4 330.8,498.4 332.0,498.4 333.2,498.5 334.4,498.5 335.6,498.5 336.8,498.6 338.0,498.6 339.2,498.6 340.4,498.6 341.6,498.6 342.8,498.7 344.0,498.7 345.2,498.7 346.4,498.7 347.6,498.8 348.8,498.8 350.0,498.8" fill="none" stroke="#000000" stroke-width="1.80" stroke-linejoin="round" stroke-linecap="round" clip-path="url(#clipb)"/>
<path d="M35.5,398.0 35.7,399.2 35.9,400.4 36.2,401.5 36.4,402.7 36.6,403.9 36.8,405.1 37.0,406.3 37.3,407.5 37.5,408.6 37.7,409.8 37.9,411.0 38.2,412.2 38.4,413.4 38.7,414.5 38.9,415.7 39.2,416.9 39.4,418.1 39.7,419.2 39.9,420.4 40.2,421.6 40.4,422.8 40.7,423.9 40.9,425.1 41.1,426.3 41.3,427.5 41.6,428.7 41.7,429.9 41.9,431.0 42.1,432.2 42.3,433.4 42.5,434.6 42.8,435.8 43.0,437.0 43.2,438.1 43.4,439.3 43.7,440.5 43.9,441.7 44.1,442.9 44.4,444.0 44.6,445.2 44.9,446.4 45.1,447.6 45.4,448.7 45.7,449.9 45.9,451.1 46.2,452.2 46.5,453.4 46.8,454.6 47.1,455.7 47.4,456.9 47.7,458.1 48.0,459.2 48.3,460.4 48.6,461.6 49.0,462.7 49.3,463.9 49.7,465.0 50.2,466.1 50.7,467.2 51.2,468.3 51.8,469.3 52.4,470.3 53.0,471.4 53.7,472.4 54.4,473.4 55.1,474.3 55.8,475.3 56.6,476.2 57.4,477.1 58.2,478.0 59.0,478.9 59.9,479.7 60.8,480.4 61.8,481.1 62.8,481.8 63.9,482.4 65.0,482.9 66.1,483.3 67.2,483.6 68.4,483.9 69.6,484.0 70.8,483.9 72.0,483.8 73.1,483.5 74.3,483.0 75.3,482.5 76.4,482.0 77.4,481.3 78.4,480.7 79.4,479.9 80.3,479.2 81.2,478.4 82.1,477.6 82.9,476.7 83.7,475.8 84.6,475.0 85.4,474.1 86.2,473.2 87.0,472.3 87.8,471.4 88.7,470.6 89.6,469.8 90.5,469.0 91.5,468.3 92.5,467.6 93.5,467.0 94.5,466.3 95.5,465.6 96.5,465.0 97.5,464.3 98.5,463.7 99.5,463.1 100.5,462.4 101.6,461.8 102.6,461.2 103.7,460.6 104.8,460.3 106.0,460.0 107.2,460.0 108.4,460.0 109.6,460.0 110.8,460.1 112.0,460.2 113.2,460.3 114.4,460.3 115.6,460.4 116.8,460.5 118.0,460.6 119.1,460.7 120.3,460.9 121.5,461.0 122.7,461.3 123.9,461.5 125.1,461.7 126.3,461.9 127.4,462.1 128.6,462.2 129.8,462.3 131.0,462.2 132.2,462.2 133.4,462.0 134.6,461.8 135.8,461.6 137.0,461.4 138.1,461.1 139.3,460.7 140.4,460.3 141.5,459.9 142.6,459.3 143.7,458.7 144.7,458.1 145.7,457.4 146.6,456.7 147.6,456.0 148.6,455.3 149.5,454.5 150.4,453.7 151.3,452.9 152.2,452.1 153.1,451.4 154.0,450.6 155.0,449.8 155.9,449.1 156.9,448.4 157.8,447.6 158.8,446.9 159.7,446.1 160.7,445.4 161.6,444.7 162.6,443.9 163.5,443.2 164.5,442.5 165.4,441.8 166.4,441.0 167.4,440.3 168.4,439.6 169.3,438.9 170.3,438.3 171.3,437.6 172.3,436.9 173.3,436.2 174.3,435.6 175.3,434.9 176.3,434.3 177.4,433.6 178.4,433.0 179.4,432.4 180.4,431.8 181.5,431.2 182.5,430.6 183.6,430.0 184.7,429.5 185.8,429.0 186.9,428.5 188.0,428.0 189.1,427.6 190.2,427.2 191.4,426.9 192.5,426.5 193.7,426.3 194.9,426.1 196.1,425.9 197.3,425.9 198.5,425.8 199.7,425.9 200.9,426.0 202.1,426.1 203.3,426.4 204.4,426.6 205.6,426.9 206.7,427.3 207.9,427.7 209.0,428.1 210.1,428.6 211.2,429.0 212.3,429.6 213.4,430.1 214.4,430.7 215.5,431.2 216.5,431.9 217.5,432.5 218.5,433.2 219.5,433.9 220.5,434.6 221.4,435.3 222.4,436.0 223.3,436.8 224.2,437.6 225.1,438.4 226.0,439.2 226.9,440.0 227.8,440.8 228.6,441.7 229.5,442.5 230.3,443.4 231.1,444.2 232.0,445.1 232.8,446.0 233.6,446.9 234.4,447.8 235.1,448.7 235.9,449.7 236.6,450.6 237.3,451.6 238.0,452.6 238.6,453.6 239.3,454.6 239.9,455.7 240.5,456.7 241.2,457.7 241.8,458.7 242.5,459.7 243.2,460.7 243.9,461.7 244.6,462.6 245.3,463.6 246.1,464.5 246.8,465.5 247.6,466.4 248.3,467.4 249.1,468.3 249.9,469.2 250.7,470.1 251.5,471.0 252.3,471.9 253.1,472.8 254.0,473.6 254.8,474.5 255.7,475.3 256.5,476.1 257.4,477.0 258.3,477.8 259.1,478.6 260.0,479.5 260.9,480.3 261.7,481.1 262.6,482.0 263.5,482.8 264.3,483.6 265.2,484.4 266.1,485.2 267.0,486.0 267.9,486.8 268.9,487.6 269.8,488.3 270.7,489.1 271.7,489.8 272.7,490.5 273.7,491.2 274.7,491.8 275.7,492.4 276.8,493.0 277.9,493.5 279.0,494.0 280.1,494.5 281.2,495.0 282.3,495.5 283.4,495.9 284.5,496.3 285.6,496.7 286.8,497.1 287.9,497.5 289.0,497.9 290.2,498.2 291.4,498.5 292.5,498.8 293.7,499.0 294.9,499.2 296.1,499.4 297.3,499.6 298.5,499.7 299.7,499.9 300.9,500.1 302.0,500.3 303.2,500.4 304.4,500.6 305.6,500.7 306.8,500.9 308.0,501.0 309.2,501.2 310.4,501.3 311.6,501.4 312.8,501.6 314.0,501.7 315.2,501.8 316.4,501.9 317.6,502.1 318.8,502.2 320.0,502.3 321.2,502.3 322.4,502.4 323.6,502.5 324.8,502.6 326.0,502.6 327.2,502.7 328.4,502.7 329.6,502.8 330.8,502.8 332.0,502.9 333.2,502.9 334.4,503.0 335.6,503.0 336.8,503.0 338.0,503.1 339.2,503.1 340.4,503.1 341.6,503.2 342.8,503.2 344.0,503.2 345.2,503.3 346.4,503.3 347.6,503.3 348.8,503.4 350.0,503.4" fill="none" stroke="#d62a2e" stroke-width="2.00" stroke-linejoin="round" stroke-linecap="round" clip-path="url(#clipb)"/>
<path d="M35.5,347.5 35.7,348.7 35.9,349.9 36.0,351.1 36.2,352.3 36.4,353.4 36.6,354.6 36.7,355.8 36.9,357.0 37.1,358.2 37.3,359.4 37.4,360.6 37.6,361.8 37.8,363.0 38.0,364.1 38.2,365.3 38.3,366.5 38.5,367.7 38.7,368.9 38.9,370.1 39.0,371.3 39.2,372.5 39.4,373.7 39.6,374.8 39.8,376.0 40.0,377.2 40.2,378.4 40.4,379.6 40.6,380.8 40.8,382.0 41.0,383.1 41.2,384.3 41.4,385.5 41.6,386.7 41.8,387.9 42.0,389.1 42.2,390.3 42.4,391.4 42.7,392.6 42.9,393.8 43.1,395.0 43.4,396.2 43.6,397.3 43.8,398.5 44.1,399.7 44.3,400.9 44.6,402.0 44.9,403.2 45.1,404.4 45.4,405.5 45.7,406.7 46.0,407.9 46.4,409.0 46.7,410.2 47.0,411.3 47.4,412.5 47.7,413.6 48.1,414.8 48.4,415.9 48.8,417.1 49.1,418.2 49.5,419.4 49.9,420.5 50.3,421.7 50.6,422.8 51.0,423.9 51.4,425.1 51.8,426.2 52.3,427.3 52.7,428.4 53.2,429.6 53.7,430.7 54.2,431.7 54.7,432.8 55.2,433.9 55.7,435.0 56.3,436.1 56.8,437.1 57.4,438.2 58.0,439.3 58.6,440.3 59.2,441.3 59.9,442.3 60.6,443.3 61.4,444.2 62.2,445.1 63.0,445.9 63.9,446.7 64.8,447.5 65.8,448.2 66.7,449.0 67.7,449.7 68.7,450.4 69.7,451.1 70.7,451.7 71.7,452.3 72.8,452.9 73.9,453.3 75.0,453.7 76.2,453.8 77.4,453.8 78.6,453.7 79.8,453.5 81.0,453.3 82.1,453.1 83.3,452.7 84.4,452.4 85.5,451.9 86.6,451.4 87.7,450.9 88.8,450.4 89.9,450.0 91.1,449.6 92.2,449.2 93.3,448.7 94.5,448.3 95.6,448.0 96.8,447.6 97.9,447.4 99.1,447.2 100.3,447.1 101.5,447.1 102.7,447.3 103.8,447.7 104.9,448.1 106.0,448.7 107.0,449.4 107.9,450.1 108.9,450.8 109.8,451.6 110.7,452.4 111.6,453.2 112.4,454.0 113.3,454.9 114.1,455.8 114.9,456.6 115.8,457.5 116.6,458.4 117.4,459.3 118.2,460.2 119.0,461.1 119.8,462.0 120.6,462.9 121.4,463.8 122.2,464.6 123.1,465.5 123.9,466.3 124.8,467.2 125.7,468.0 126.5,468.8 127.4,469.7 128.2,470.5 129.1,471.4 129.9,472.3 130.7,473.2 131.4,474.1 132.1,475.1 132.7,476.1 133.3,477.2 134.0,478.2 134.7,479.1 135.5,480.0 136.4,480.8 137.4,481.6 138.3,482.3 139.4,482.9 140.4,483.5 141.5,484.0 142.6,484.5 143.7,485.0 144.8,485.3 146.0,485.7 147.1,486.0 148.3,486.3 149.5,486.6 150.6,486.9 151.8,487.1 153.0,487.3 154.2,487.5 155.4,487.7 156.6,487.8 157.8,488.0 158.9,488.1 160.1,488.2 161.3,488.3 162.5,488.4 163.7,488.5 164.9,488.6 166.1,488.7 167.3,488.8 168.5,488.9 169.7,489.0 170.9,489.1 172.1,489.2 173.3,489.2 174.5,489.3 175.7,489.4 176.9,489.4 178.1,489.5 179.3,489.6 180.5,489.6 181.7,489.7 182.9,489.8 184.1,489.8 185.3,489.9 186.5,489.9 187.7,490.0 188.9,490.0 190.1,490.1 191.3,490.2 192.5,490.2 193.7,490.3 194.9,490.3 196.1,490.4 197.3,490.4 198.5,490.5 199.7,490.5 200.9,490.6 202.1,490.6 203.3,490.7 204.5,490.7 205.8,490.7 207.0,490.8 208.2,490.8 209.4,490.9 210.6,490.9 211.8,490.9 213.0,490.9 214.2,491.0 215.4,491.0 216.6,491.0 217.8,491.1 219.0,491.1 220.2,491.1 221.4,491.1 222.6,491.2 223.8,491.2 225.0,491.2 226.2,491.2 227.4,491.3 228.6,491.3 229.8,491.3 231.0,491.3 232.2,491.3 233.4,491.4 234.6,491.4 235.8,491.4 237.0,491.4 238.2,491.4 239.4,491.5 240.6,491.5 241.8,491.5 243.0,491.5 244.2,491.5 245.4,491.5 246.6,491.6 247.8,491.6 249.0,491.6 250.2,491.6 251.4,491.6 252.6,491.6 253.8,491.7 255.0,491.7 256.2,491.7 257.4,491.7 258.6,491.7 259.8,491.7 261.0,491.7 262.2,491.8 263.4,491.8 264.6,491.8 265.9,491.8 267.1,491.8 268.3,491.8 269.5,491.9 270.7,491.9 271.9,491.9 273.1,491.9 274.3,491.9 275.5,491.9 276.7,491.9 277.9,492.0 279.1,492.0 280.3,492.0 281.5,492.0 282.7,492.0 283.9,492.0 285.1,492.0 286.3,492.1 287.5,492.1 288.7,492.1 289.9,492.1 291.1,492.1 292.3,492.1 293.5,492.1 294.7,492.2 295.9,492.2 297.1,492.2 298.3,492.2 299.5,492.2 300.7,492.2 301.9,492.2 303.1,492.3 304.3,492.3 305.5,492.3 306.7,492.3 307.9,492.3 309.1,492.3 310.3,492.3 311.5,492.4 312.7,492.4 313.9,492.4 315.1,492.4 316.3,492.4 317.5,492.4 318.7,492.4 319.9,492.5 321.1,492.5 322.4,492.5 323.6,492.5 324.8,492.5 326.0,492.5 327.2,492.5 328.4,492.5 329.6,492.6 330.8,492.6 332.0,492.6 333.2,492.6 334.4,492.6 335.6,492.6 336.8,492.6 338.0,492.7 339.2,492.7 340.4,492.7 341.6,492.7 342.8,492.7 344.0,492.7 345.2,492.7 346.4,492.8 347.6,492.8 348.8,492.8 350.0,492.8" fill="none" stroke="#1f7035" stroke-width="2.00" stroke-linejoin="round" stroke-linecap="round" clip-path="url(#clipb)"/>
<path d="M35.5,371.0 35.7,372.2 35.8,373.4 36.0,374.6 36.1,375.8 36.3,377.0 36.4,378.2 36.6,379.4 36.7,380.5 36.9,381.7 37.0,382.9 37.2,384.1 37.4,385.3 37.5,386.5 37.7,387.7 37.8,388.9 38.0,390.1 38.2,391.3 38.3,392.5 38.5,393.7 38.7,394.9 38.8,396.0 39.0,397.2 39.2,398.4 39.4,399.6 39.6,400.8 39.7,402.0 39.9,403.2 40.1,404.4 40.3,405.6 40.5,406.7 40.7,407.9 40.9,409.1 41.1,410.3 41.3,411.5 41.5,412.7 41.7,413.9 42.0,415.0 42.2,416.2 42.4,417.4 42.7,418.6 43.0,419.7 43.2,420.9 43.5,422.1 43.7,423.3 44.0,424.4 44.2,425.6 44.5,426.8 44.7,428.0 44.9,429.2 45.1,430.3 45.4,431.5 45.6,432.7 45.8,433.9 46.1,435.1 46.4,436.2 46.7,437.4 47.0,438.6 47.3,439.7 47.6,440.9 47.9,442.1 48.2,443.2 48.5,444.4 48.9,445.5 49.2,446.7 49.5,447.8 49.9,449.0 50.2,450.1 50.6,451.3 51.0,452.4 51.3,453.6 51.7,454.7 52.1,455.9 52.4,457.0 52.8,458.2 53.2,459.3 53.5,460.5 53.9,461.6 54.3,462.7 54.8,463.8 55.3,464.9 55.9,466.0 56.5,467.0 57.2,467.9 58.0,468.9 58.8,469.8 59.6,470.6 60.5,471.5 61.3,472.4 62.2,473.2 63.1,474.0 64.1,474.6 65.1,475.1 66.3,475.4 67.5,475.6 68.7,475.6 69.9,475.5 71.1,475.4 72.3,475.3 73.5,475.1 74.6,474.9 75.8,474.6 76.9,474.1 77.9,473.5 78.9,472.8 79.9,472.1 80.8,471.4 81.8,470.7 82.7,469.9 83.7,469.2 84.6,468.4 85.4,467.5 86.3,466.7 87.0,465.8 87.8,464.9 88.7,464.0 89.5,463.1 90.4,462.4 91.4,461.6 92.3,460.9 93.3,460.1 94.3,459.4 95.2,458.7 96.3,458.1 97.3,457.5 98.3,456.9 99.4,456.4 100.6,456.1 101.8,455.9 102.9,456.0 104.1,456.2 105.2,456.5 106.3,457.0 107.3,457.7 108.3,458.4 109.2,459.2 110.1,460.0 111.0,460.8 111.9,461.6 112.7,462.5 113.5,463.4 114.4,464.2 115.2,465.1 116.1,465.9 116.9,466.8 117.7,467.7 118.6,468.5 119.4,469.4 120.3,470.2 121.1,471.1 121.9,472.0 122.8,472.8 123.6,473.7 124.5,474.5 125.3,475.4 126.2,476.2 127.1,477.0 128.0,477.8 128.9,478.6 129.8,479.4 130.7,480.2 131.7,480.9 132.7,481.6 133.7,482.3 134.7,482.9 135.7,483.5 136.8,484.1 137.9,484.6 139.0,485.1 140.1,485.5 141.2,486.0 142.3,486.6 143.3,487.1 144.4,487.6 145.5,488.0 146.7,488.5 147.8,488.9 148.9,489.2 150.1,489.6 151.3,489.9 152.4,490.2 153.6,490.5 154.7,490.9 155.9,491.2 157.1,491.5 158.2,491.8 159.4,492.0 160.6,492.2 161.8,492.4 163.0,492.6 164.2,492.7 165.4,492.8 166.6,493.0 167.8,493.1 169.0,493.1 170.2,493.2 171.4,493.3 172.6,493.3 173.8,493.4 175.0,493.4 176.2,493.4 177.4,493.5 178.6,493.5 179.8,493.5 181.0,493.5 182.2,493.5 183.4,493.5 184.6,493.5 185.8,493.5 187.0,493.5 188.2,493.5 189.4,493.5 190.6,493.5 191.8,493.5 193.0,493.5 194.2,493.4 195.4,493.4 196.6,493.4 197.8,493.4 199.0,493.4 200.2,493.4 201.4,493.4 202.6,493.4 203.8,493.3 205.0,493.3 206.2,493.3 207.4,493.3 208.7,493.3 209.9,493.3 211.1,493.3 212.3,493.3 213.5,493.3 214.7,493.3 215.9,493.3 217.1,493.3 218.3,493.3 219.5,493.3 220.7,493.3 221.9,493.3 223.1,493.3 224.3,493.3 225.5,493.3 226.7,493.3 227.9,493.3 229.1,493.3 230.3,493.3 231.5,493.3 232.7,493.3 233.9,493.3 235.1,493.3 236.3,493.4 237.5,493.4 238.7,493.4 239.9,493.4 241.1,493.4 242.3,493.4 243.5,493.4 244.7,493.4 245.9,493.4 247.1,493.5 248.4,493.5 249.6,493.5 250.8,493.5 252.0,493.5 253.2,493.5 254.4,493.5 255.6,493.5 256.8,493.5 258.0,493.6 259.2,493.6 260.4,493.6 261.6,493.6 262.8,493.6 264.0,493.6 265.2,493.6 266.4,493.6 267.6,493.7 268.8,493.7 270.0,493.7 271.2,493.7 272.4,493.7 273.6,493.7 274.8,493.7 276.0,493.8 277.2,493.8 278.4,493.8 279.6,493.8 280.8,493.8 282.0,493.8 283.2,493.8 284.4,493.8 285.6,493.9 286.8,493.9 288.0,493.9 289.3,493.9 290.5,493.9 291.7,493.9 292.9,493.9 294.1,494.0 295.3,494.0 296.5,494.0 297.7,494.0 298.9,494.0 300.1,494.0 301.3,494.0 302.5,494.1 303.7,494.1 304.9,494.1 306.1,494.1 307.3,494.1 308.5,494.1 309.7,494.1 310.9,494.1 312.1,494.2 313.3,494.2 314.5,494.2 315.7,494.2 316.9,494.2 318.1,494.2 319.3,494.2 320.5,494.3 321.7,494.3 322.9,494.3 324.1,494.3 325.3,494.3 326.5,494.3 327.7,494.3 328.9,494.4 330.2,494.4 331.4,494.4 332.6,494.4 333.8,494.4 335.0,494.4 336.2,494.4 337.4,494.5 338.6,494.5 339.8,494.5 341.0,494.5 342.2,494.5 343.4,494.5 344.6,494.5 345.8,494.6 347.0,494.6 348.2,494.6 349.4,494.6 350.0,494.6" fill="none" stroke="#2a4a90" stroke-width="2.00" stroke-linejoin="round" stroke-linecap="round" clip-path="url(#clipb)"/>
<path d="M35.5,358.0 35.7,359.2 35.8,360.4 36.0,361.6 36.1,362.8 36.3,364.0 36.5,365.2 36.6,366.3 36.8,367.5 37.0,368.7 37.1,369.9 37.3,371.1 37.4,372.3 37.6,373.5 37.8,374.7 37.9,375.9 38.1,377.1 38.2,378.3 38.4,379.5 38.5,380.7 38.7,381.9 38.9,383.0 39.0,384.2 39.2,385.4 39.3,386.6 39.5,387.8 39.6,389.0 39.8,390.2 40.0,391.4 40.1,392.6 40.3,393.8 40.5,395.0 40.7,396.2 40.8,397.3 41.0,398.5 41.2,399.7 41.4,400.9 41.6,402.1 41.8,403.3 41.9,404.5 42.1,405.7 42.3,406.9 42.5,408.0 42.7,409.2 42.9,410.4 43.1,411.6 43.3,412.8 43.5,414.0 43.7,415.2 43.9,416.4 44.1,417.5 44.3,418.7 44.5,419.9 44.7,421.1 45.0,422.3 45.2,423.5 45.4,424.6 45.7,425.8 45.9,427.0 46.2,428.2 46.5,429.3 46.8,430.5 47.2,431.6 47.5,432.8 47.8,434.0 48.2,435.1 48.5,436.3 48.9,437.4 49.3,438.6 49.6,439.7 50.0,440.8 50.4,442.0 50.8,443.1 51.2,444.3 51.6,445.4 52.0,446.5 52.4,447.7 52.8,448.8 53.2,449.9 53.6,451.0 54.1,452.2 54.5,453.3 55.0,454.4 55.5,455.5 56.1,456.5 56.6,457.6 57.2,458.7 57.8,459.7 58.5,460.7 59.3,461.6 60.1,462.5 60.9,463.4 61.8,464.2 62.7,465.0 63.6,465.7 64.6,466.4 65.6,467.0 66.7,467.6 67.8,468.1 68.9,468.4 70.1,468.5 71.3,468.5 72.5,468.3 73.7,468.0 74.8,467.7 76.0,467.3 77.1,466.9 78.2,466.4 79.1,465.7 80.0,465.0 80.9,464.1 81.8,463.3 82.6,462.4 83.5,461.6 84.3,460.7 85.2,459.9 86.0,459.0 86.9,458.2 87.8,457.4 88.7,456.6 89.6,455.8 90.5,455.0 91.4,454.2 92.3,453.4 93.3,452.7 94.2,451.9 95.2,451.2 96.2,450.5 97.2,449.9 98.2,449.4 99.4,448.9 100.5,448.7 101.7,448.6 102.9,448.6 104.1,448.8 105.2,449.2 106.3,449.7 107.3,450.4 108.3,451.1 109.2,451.9 110.1,452.7 111.0,453.5 111.8,454.3 112.7,455.2 113.5,456.0 114.3,456.9 115.2,457.8 116.0,458.7 116.8,459.6 117.6,460.5 118.4,461.4 119.2,462.3 119.9,463.2 120.7,464.1 121.5,465.0 122.3,466.0 123.0,466.9 123.7,467.8 124.5,468.8 125.2,469.8 125.9,470.7 126.6,471.7 127.3,472.7 128.1,473.6 128.9,474.5 129.7,475.4 130.5,476.3 131.4,477.1 132.3,477.9 133.2,478.7 134.1,479.5 135.1,480.2 136.0,480.9 137.0,481.6 138.0,482.3 139.0,483.0 140.0,483.6 141.0,484.2 142.1,484.9 143.1,485.5 144.2,486.0 145.3,486.5 146.4,487.0 147.5,487.3 148.7,487.7 149.8,488.0 151.0,488.2 152.2,488.5 153.4,488.7 154.6,488.9 155.7,489.1 156.9,489.3 158.1,489.5 159.3,489.6 160.5,489.8 161.7,489.9 162.9,490.0 164.1,490.1 165.3,490.2 166.5,490.2 167.7,490.3 168.9,490.4 170.1,490.4 171.3,490.5 172.5,490.5 173.7,490.6 174.9,490.6 176.1,490.6 177.3,490.7 178.5,490.7 179.7,490.8 180.9,490.8 182.1,490.8 183.3,490.8 184.6,490.9 185.8,490.9 187.0,490.9 188.2,490.9 189.4,490.9 190.6,491.0 191.8,491.0 193.0,491.0 194.2,491.0 195.4,491.0 196.6,491.0 197.8,491.0 199.0,491.0 200.2,491.1 201.4,491.1 202.6,491.1 203.8,491.1 205.0,491.1 206.2,491.1 207.4,491.1 208.6,491.1 209.8,491.1 211.0,491.1 212.2,491.1 213.4,491.1 214.6,491.1 215.8,491.1 217.0,491.1 218.2,491.2 219.4,491.2 220.6,491.2 221.9,491.2 223.1,491.2 224.3,491.2 225.5,491.2 226.7,491.2 227.9,491.2 229.1,491.2 230.3,491.2 231.5,491.2 232.7,491.2 233.9,491.2 235.1,491.2 236.3,491.2 237.5,491.2 238.7,491.2 239.9,491.2 241.1,491.2 242.3,491.2 243.5,491.2 244.7,491.2 245.9,491.2 247.1,491.2 248.3,491.2 249.5,491.2 250.7,491.2 251.9,491.2 253.1,491.2 254.3,491.2 255.5,491.2 256.7,491.2 257.9,491.2 259.2,491.2 260.4,491.2 261.6,491.3 262.8,491.3 264.0,491.3 265.2,491.3 266.4,491.3 267.6,491.3 268.8,491.3 270.0,491.3 271.2,491.3 272.4,491.3 273.6,491.3 274.8,491.3 276.0,491.3 277.2,491.3 278.4,491.3 279.6,491.3 280.8,491.2 282.0,491.2 283.2,491.2 284.4,491.2 285.6,491.2 286.8,491.2 288.0,491.2 289.2,491.2 290.4,491.2 291.6,491.2 292.8,491.2 294.0,491.2 295.3,491.2 296.5,491.2 297.7,491.2 298.9,491.2 300.1,491.2 301.3,491.2 302.5,491.2 303.7,491.2 304.9,491.2 306.1,491.2 307.3,491.2 308.5,491.2 309.7,491.2 310.9,491.2 312.1,491.2 313.3,491.2 314.5,491.2 315.7,491.2 316.9,491.2 318.1,491.2 319.3,491.2 320.5,491.2 321.7,491.2 322.9,491.2 324.1,491.2 325.3,491.2 326.5,491.2 327.7,491.2 328.9,491.2 330.1,491.2 331.3,491.2 332.6,491.2 333.8,491.2 335.0,491.2 336.2,491.2 337.4,491.2 338.6,491.2 339.8,491.2 341.0,491.2 342.2,491.2 343.4,491.2 344.6,491.2 345.8,491.2 347.0,491.2 348.2,491.2 349.4,491.2 350.0,491.2" fill="none" stroke="#9c58a2" stroke-width="2.00" stroke-linejoin="round" stroke-linecap="round" clip-path="url(#clipb)"/>
<path d="M35.5,347.5 35.7,348.7 35.9,349.9 36.0,351.1 36.2,352.3 36.4,353.4 36.6,354.6 36.7,355.8 36.9,357.0 37.1,358.2 37.3,359.4 37.4,360.6 37.6,361.8 37.8,363.0 38.0,364.1 38.2,365.3 38.3,366.5 38.5,367.7 38.7,368.9 38.9,370.1 39.0,371.3 39.2,372.5 39.4,373.7 39.6,374.8 39.8,376.0 40.0,377.2 40.2,378.4 40.4,379.6 40.6,380.8 40.8,382.0 41.0,383.1 41.2,384.3 41.4,385.5 41.6,386.7 41.8,387.9 42.0,389.1 42.2,390.3 42.4,391.4 42.7,392.6 42.9,393.8 43.1,395.0 43.4,396.2 43.6,397.3 43.8,398.5 44.1,399.7 44.3,400.9 44.6,402.0 44.9,403.2 45.1,404.4 45.4,405.5 45.7,406.7 46.0,407.9 46.4,409.0 46.7,410.2 47.0,411.3 47.4,412.5 47.7,413.6 48.1,414.8 48.4,415.9 48.8,417.1 49.1,418.2 49.5,419.4 49.9,420.5 50.3,421.7 50.6,422.8 51.0,423.9 51.4,425.1 51.8,426.2 52.3,427.3 52.7,428.4 53.2,429.6 53.7,430.7 54.2,431.7 54.7,432.8 55.2,433.9 55.7,435.0 56.3,436.1 56.8,437.1 57.4,438.2 58.0,439.3 58.6,440.3 59.2,441.3 59.9,442.3 60.6,443.3 61.4,444.2 62.2,445.1 63.0,445.9 63.9,446.7 64.8,447.5 65.8,448.2 66.7,449.0 67.7,449.7 68.7,450.4 69.7,451.1 70.7,451.7 71.7,452.3 72.8,452.9 73.9,453.3 75.0,453.7 76.2,453.8 77.4,453.8 78.6,453.7 79.8,453.5 81.0,453.3 82.1,453.1 83.3,452.7 84.4,452.4 85.5,451.9 86.6,451.4 87.7,450.9 88.8,450.4 89.9,450.0 91.1,449.6 92.2,449.2 93.3,448.7 94.5,448.3 95.6,448.0 96.8,447.6 97.9,447.4 99.1,447.2 100.3,447.1 101.5,447.1 102.7,447.3 103.8,447.7 104.9,448.1 106.0,448.7 107.0,449.4 107.9,450.1 108.9,450.8 109.8,451.6 110.7,452.4 111.6,453.2 112.4,454.0 113.3,454.9 114.1,455.8 114.9,456.6 115.8,457.5 116.6,458.4 117.4,459.3 118.2,460.2 119.0,461.1 119.8,462.0 120.6,462.9 121.4,463.8 122.2,464.6 123.1,465.5 123.9,466.3 124.8,467.2 125.7,468.0 126.5,468.8 127.4,469.7 128.2,470.5 129.1,471.4 129.9,472.3 130.7,473.2 131.4,474.1 132.1,475.1 132.7,476.1 133.3,477.2 134.0,478.2 134.7,479.1 135.5,480.0 136.4,480.8 137.4,481.6 138.3,482.3 139.4,482.9 140.4,483.5 141.5,484.0 142.6,484.5 143.7,485.0 144.8,485.3 146.0,485.7 147.1,486.0 148.3,486.3 149.5,486.6 150.6,486.9 151.8,487.1 153.0,487.3 154.2,487.5 155.4,487.7 156.6,487.8 157.8,488.0 158.9,488.1 160.1,488.2 161.3,488.3 162.5,488.4 163.7,488.5 164.9,488.6 166.1,488.7 167.3,488.8 168.5,488.9 169.7,489.0 170.9,489.1 172.1,489.2 173.3,489.2 174.5,489.3 175.7,489.4 176.9,489.4 178.1,489.5 179.3,489.6 180.5,489.6 181.7,489.7 182.9,489.8 184.1,489.8 185.3,489.9 186.5,489.9 187.7,490.0 188.9,490.0 190.1,490.1 191.3,490.2 192.5,490.2 193.7,490.3 194.9,490.3 196.1,490.4 197.3,490.4 198.5,490.5 199.7,490.5 200.9,490.6 202.1,490.6 203.3,490.7 204.5,490.7 205.8,490.7 207.0,490.8 208.2,490.8 209.4,490.9 210.6,490.9 211.8,490.9 213.0,490.9 214.2,491.0 215.4,491.0 216.6,491.0 217.8,491.1 219.0,491.1 220.2,491.1 221.4,491.1 222.6,491.2 223.8,491.2 225.0,491.2 226.2,491.2 227.4,491.3 228.6,491.3 229.8,491.3 231.0,491.3 232.2,491.3 233.4,491.4 234.6,491.4 235.8,491.4 237.0,491.4 238.2,491.4 239.4,491.5 240.6,491.5 241.8,491.5 243.0,491.5 244.2,491.5 245.4,491.5 246.6,491.6 247.8,491.6 249.0,491.6 250.2,491.6 251.4,491.6 252.6,491.6 253.8,491.7 255.0,491.7 256.2,491.7 257.4,491.7 258.6,491.7 259.8,491.7 261.0,491.7 262.2,491.8 263.4,491.8 264.6,491.8 265.9,491.8 267.1,491.8 268.3,491.8 269.5,491.9 270.7,491.9 271.9,491.9 273.1,491.9 274.3,491.9 275.5,491.9 276.7,491.9 277.9,492.0 279.1,492.0 280.3,492.0 281.5,492.0 282.7,492.0 283.9,492.0 285.1,492.0 286.3,492.1 287.5,492.1 288.7,492.1 289.9,492.1 291.1,492.1 292.3,492.1 293.5,492.1 294.7,492.2 295.9,492.2 297.1,492.2 298.3,492.2 299.5,492.2 300.7,492.2 301.9,492.2 303.1,492.3 304.3,492.3 305.5,492.3 306.7,492.3 307.9,492.3 309.1,492.3 310.3,492.3 311.5,492.4 312.7,492.4 313.9,492.4 315.1,492.4 316.3,492.4 317.5,492.4 318.7,492.4 319.9,492.5 321.1,492.5 322.4,492.5 323.6,492.5 324.8,492.5 326.0,492.5 327.2,492.5 328.4,492.5 329.6,492.6 330.8,492.6 332.0,492.6 333.2,492.6 334.4,492.6 335.6,492.6 336.8,492.6 338.0,492.7 339.2,492.7 340.4,492.7 341.6,492.7 342.8,492.7 344.0,492.7 345.2,492.7 346.4,492.8 347.6,492.8 348.8,492.8 350.0,492.8" fill="none" stroke="#1a1a50" stroke-width="2.00" stroke-linejoin="round" stroke-linecap="round" clip-path="url(#clipb)"/>
<text transform="translate(193.00,547.20) scale(1,1.070)" text-anchor="middle" font-size="12.50" fill="#111">Wavelength (nm)</text>
<text transform="translate(10.90,404.20) scale(1,1.000) rotate(-90)" text-anchor="middle" font-size="12.30" fill="#111">Absorbance</text>
<text transform="translate(40.30,305.80) scale(1,1.070)" font-size="13.00" fill="#111">b</text>
<line x1="281.6" y1="299.40" x2="308.6" y2="299.40" stroke="#000000" stroke-width="1.7"/>
<text transform="translate(311.30,304.00) scale(1,1.070)" font-size="12.60" fill="#111">0 min</text>
<line x1="281.6" y1="314.82" x2="308.6" y2="314.82" stroke="#d62a2e" stroke-width="1.7"/>
<text transform="translate(311.30,319.42) scale(1,1.070)" font-size="12.60" fill="#111">3 min</text>
<line x1="281.6" y1="330.24" x2="308.6" y2="330.24" stroke="#2a4a90" stroke-width="1.7"/>
<text transform="translate(311.30,334.84) scale(1,1.070)" font-size="12.60" fill="#111">6 min</text>
<line x1="281.6" y1="345.66" x2="308.6" y2="345.66" stroke="#9c58a2" stroke-width="1.7"/>
<text transform="translate(311.30,350.26) scale(1,1.070)" font-size="12.60" fill="#111">9 min</text>
<line x1="281.6" y1="361.08" x2="308.6" y2="361.08" stroke="#1f7035" stroke-width="1.7"/>
<text transform="translate(311.30,365.68) scale(1,1.070)" font-size="12.60" fill="#111">12 min</text>
<line x1="281.6" y1="376.50" x2="308.6" y2="376.50" stroke="#1a1a50" stroke-width="1.7"/>
<text transform="translate(311.30,381.10) scale(1,1.070)" font-size="12.60" fill="#111">15 min</text>
<clipPath id="clipc"><rect x="35.5" y="573.1" width="314.0" height="229.1"/></clipPath>
<rect x="35.5" y="573.1" width="314.0" height="229.1" fill="none" stroke="#2a2a2a" stroke-width="1.2"/>
<line x1="35.5" y1="793.20" x2="40.5" y2="793.20" stroke="#2a2a2a" stroke-width="1.1"/>
<text transform="translate(30.50,796.80) scale(1,1.070)" text-anchor="end" font-size="10.50" fill="#111">0.0</text>
<line x1="35.5" y1="756.48" x2="40.5" y2="756.48" stroke="#2a2a2a" stroke-width="1.1"/>
<text transform="translate(30.50,760.08) scale(1,1.070)" text-anchor="end" font-size="10.50" fill="#111">0.2</text>
<line x1="35.5" y1="719.76" x2="40.5" y2="719.76" stroke="#2a2a2a" stroke-width="1.1"/>
<text transform="translate(30.50,723.36) scale(1,1.070)" text-anchor="end" font-size="10.50" fill="#111">0.4</text>
<line x1="35.5" y1="683.04" x2="40.5" y2="683.04" stroke="#2a2a2a" stroke-width="1.1"/>
<text transform="translate(30.50,686.64) scale(1,1.070)" text-anchor="end" font-size="10.50" fill="#111">0.6</text>
<line x1="35.5" y1="646.32" x2="40.5" y2="646.32" stroke="#2a2a2a" stroke-width="1.1"/>
<text transform="translate(30.50,649.92) scale(1,1.070)" text-anchor="end" font-size="10.50" fill="#111">0.8</text>
<line x1="35.5" y1="609.60" x2="40.5" y2="609.60" stroke="#2a2a2a" stroke-width="1.1"/>
<text transform="translate(30.50,613.20) scale(1,1.070)" text-anchor="end" font-size="10.50" fill="#111">1.0</text>
<line x1="35.5" y1="572.88" x2="40.5" y2="572.88" stroke="#2a2a2a" stroke-width="1.1"/>
<text transform="translate(30.50,576.48) scale(1,1.070)" text-anchor="end" font-size="10.50" fill="#111">1.2</text>
<text transform="translate(35.50,815.40) scale(1,1.070)" text-anchor="middle" font-size="10.50" fill="#111">250</text>
<line x1="98.30" y1="802.2" x2="98.30" y2="797.7" stroke="#2a2a2a" stroke-width="1.1"/>
<text transform="translate(98.30,815.40) scale(1,1.070)" text-anchor="middle" font-size="10.50" fill="#111">300</text>
<line x1="161.10" y1="802.2" x2="161.10" y2="797.7" stroke="#2a2a2a" stroke-width="1.1"/>
<text transform="translate(161.10,815.40) scale(1,1.070)" text-anchor="middle" font-size="10.50" fill="#111">350</text>
<line x1="223.90" y1="802.2" x2="223.90" y2="797.7" stroke="#2a2a2a" stroke-width="1.1"/>
<text transform="translate(223.90,815.40) scale(1,1.070)" text-anchor="middle" font-size="10.50" fill="#111">400</text>
<line x1="286.70" y1="802.2" x2="286.70" y2="797.7" stroke="#2a2a2a" stroke-width="1.1"/>
<text transform="translate(286.70,815.40) scale(1,1.070)" text-anchor="middle" font-size="10.50" fill="#111">450</text>
<text transform="translate(349.50,815.40) scale(1,1.070)" text-anchor="middle" font-size="10.50" fill="#111">500</text>
<path d="M35.5,727.3 36.1,728.3 36.8,729.3 37.4,730.3 38.1,731.3 38.7,732.3 39.4,733.4 40.0,734.4 40.7,735.4 41.3,736.4 42.0,737.4 42.7,738.4 43.4,739.4 44.0,740.4 44.7,741.4 45.4,742.3 46.1,743.3 46.8,744.3 47.5,745.3 48.2,746.3 48.9,747.2 49.6,748.2 50.4,749.1 51.1,750.1 51.9,751.0 52.7,751.9 53.5,752.8 54.3,753.7 55.2,754.5 56.0,755.4 56.9,756.2 57.8,756.9 58.8,757.7 59.7,758.4 60.7,759.1 61.7,759.7 62.8,760.3 63.9,760.8 65.0,761.3 66.1,761.7 67.3,762.0 68.4,762.3 69.6,762.5 70.8,762.6 72.0,762.6 73.2,762.6 74.4,762.4 75.6,762.2 76.7,761.9 77.9,761.6 79.0,761.2 80.2,760.8 81.3,760.4 82.4,759.9 83.5,759.4 84.6,758.9 85.7,758.4 86.8,757.9 87.8,757.3 88.9,756.7 89.9,756.1 90.9,755.5 91.9,754.8 92.9,754.1 93.9,753.4 94.8,752.7 95.8,751.9 96.7,751.2 97.7,750.4 98.6,749.7 99.5,748.9 100.4,748.1 101.3,747.3 102.2,746.5 103.1,745.7 104.0,744.9 104.8,744.0 105.6,743.1 106.4,742.3 107.2,741.3 108.0,740.4 108.8,739.5 109.6,738.6 110.3,737.7 111.0,736.7 111.8,735.7 112.5,734.8 113.1,733.8 113.8,732.8 114.4,731.7 115.1,730.7 115.7,729.7 116.3,728.7 116.9,727.6 117.5,726.6 118.1,725.5 118.7,724.5 119.3,723.4 119.9,722.4 120.5,721.4 121.1,720.3 121.7,719.3 122.2,718.2 122.8,717.2 123.4,716.1 124.0,715.0 124.5,714.0 125.1,712.9 125.7,711.9 126.2,710.8 126.8,709.7 127.4,708.7 127.9,707.6 128.5,706.5 129.0,705.5 129.6,704.4 130.2,703.4 130.7,702.3 131.3,701.2 131.8,700.2 132.4,699.1 132.9,698.0 133.4,696.9 134.0,695.9 134.5,694.8 135.0,693.7 135.5,692.6 136.0,691.5 136.5,690.4 137.0,689.3 137.5,688.2 138.0,687.1 138.5,686.0 138.9,684.9 139.4,683.8 139.9,682.7 140.3,681.6 140.8,680.5 141.2,679.4 141.7,678.2 142.2,677.1 142.6,676.0 143.1,674.9 143.5,673.8 144.0,672.7 144.4,671.6 144.9,670.4 145.3,669.3 145.8,668.2 146.3,667.1 146.7,666.0 147.2,664.9 147.7,663.8 148.1,662.7 148.6,661.6 149.1,660.5 149.5,659.4 150.0,658.3 150.5,657.2 151.0,656.1 151.5,655.0 151.9,653.9 152.4,652.8 152.9,651.7 153.4,650.5 153.8,649.4 154.3,648.3 154.8,647.2 155.3,646.1 155.8,645.0 156.3,643.9 156.7,642.8 157.2,641.7 157.7,640.6 158.2,639.5 158.7,638.4 159.1,637.3 159.6,636.2 160.1,635.1 160.6,634.0 161.1,632.9 161.6,631.8 162.0,630.7 162.5,629.6 163.0,628.5 163.5,627.4 164.0,626.3 164.5,625.2 165.0,624.1 165.4,623.0 165.9,621.9 166.4,620.8 166.9,619.7 167.4,618.6 167.9,617.5 168.4,616.4 168.9,615.3 169.4,614.2 169.8,613.1 170.3,612.0 170.8,610.9 171.3,609.8 171.8,608.7 172.3,607.6 172.8,606.5 173.2,605.4 173.7,604.3 174.2,603.2 174.7,602.1 175.2,601.0 175.7,600.0 176.2,598.9 176.7,597.8 177.3,596.7 177.9,595.7 178.6,594.7 179.4,593.8 180.2,593.0 181.0,592.1 181.7,591.2 182.4,590.2 183.1,589.2 183.8,588.2 184.5,587.2 185.2,586.2 185.9,585.2 186.6,584.3 187.3,583.4 188.1,582.5 189.0,581.6 189.9,580.8 190.8,580.1 191.8,579.4 192.8,578.8 193.9,578.3 195.0,577.8 196.2,577.5 197.4,577.4 198.6,577.4 199.8,577.6 200.9,577.8 202.1,578.1 203.2,578.5 204.3,579.1 205.2,579.8 206.2,580.5 207.1,581.3 207.9,582.2 208.7,583.1 209.5,584.0 210.2,585.0 210.9,585.9 211.6,586.9 212.2,588.0 212.8,589.0 213.3,590.1 213.8,591.2 214.3,592.3 214.8,593.4 215.2,594.5 215.7,595.6 216.1,596.7 216.6,597.8 217.1,599.0 217.5,600.1 218.0,601.2 218.5,602.3 219.0,603.4 219.5,604.5 219.9,605.6 220.4,606.7 220.9,607.8 221.4,608.9 221.9,610.0 222.3,611.1 222.8,612.2 223.3,613.3 223.7,614.4 224.2,615.5 224.7,616.6 225.1,617.7 225.6,618.9 226.0,620.0 226.4,621.1 226.9,622.2 227.3,623.3 227.7,624.5 228.1,625.6 228.5,626.7 228.9,627.9 229.3,629.0 229.6,630.2 230.0,631.3 230.4,632.4 230.8,633.6 231.1,634.7 231.5,635.9 231.9,637.0 232.2,638.2 232.6,639.3 233.0,640.4 233.3,641.6 233.7,642.7 234.1,643.9 234.5,645.0 234.8,646.2 235.2,647.3 235.6,648.5 236.0,649.6 236.3,650.7 236.7,651.9 237.1,653.0 237.5,654.2 237.8,655.3 238.2,656.4 238.6,657.6 239.0,658.7 239.3,659.9 239.7,661.0 240.1,662.2 240.4,663.3 240.8,664.5 241.2,665.6 241.5,666.7 241.9,667.9 242.2,669.1 242.6,670.2 242.9,671.4 243.2,672.5 243.5,673.7 243.9,674.8 244.2,676.0 244.5,677.1 244.8,678.3 245.1,679.5 245.5,680.6 245.8,681.8 246.1,682.9 246.4,684.1 246.8,685.3 247.1,686.4 247.4,687.6 247.8,688.7 248.1,689.9 248.5,691.0 248.8,692.2 249.2,693.3 249.6,694.5 249.9,695.6 250.3,696.7 250.7,697.9 251.1,699.0 251.5,700.1 251.9,701.3 252.3,702.4 252.7,703.5 253.1,704.7 253.5,705.8 253.9,706.9 254.4,708.1 254.8,709.2 255.2,710.3 255.6,711.4 256.1,712.5 256.5,713.7 257.0,714.8 257.4,715.9 257.9,717.0 258.3,718.1 258.7,719.3 259.2,720.4 259.6,721.5 260.1,722.6 260.5,723.7 260.9,724.8 261.4,726.0 261.8,727.1 262.3,728.2 262.8,729.3 263.2,730.4 263.7,731.5 264.2,732.6 264.7,733.7 265.2,734.8 265.7,735.9 266.2,737.0 266.7,738.1 267.2,739.2 267.7,740.3 268.2,741.3 268.7,742.4 269.3,743.5 269.8,744.6 270.4,745.6 270.9,746.7 271.5,747.8 272.0,748.8 272.6,749.9 273.2,750.9 273.8,752.0 274.4,753.0 275.0,754.1 275.6,755.1 276.3,756.1 276.9,757.1 277.6,758.1 278.3,759.1 279.0,760.1 279.7,761.1 280.4,762.0 281.1,763.0 281.9,763.9 282.6,764.9 283.4,765.8 284.2,766.7 285.0,767.6 285.9,768.4 286.8,769.2 287.7,770.0 288.6,770.7 289.6,771.4 290.6,772.1 291.6,772.8 292.6,773.4 293.6,774.1 294.6,774.7 295.7,775.3 296.7,775.9 297.8,776.4 298.9,777.0 300.0,777.4 301.1,777.9 302.2,778.3 303.4,778.7 304.5,779.0 305.7,779.3 306.9,779.6 308.0,779.8 309.2,780.0 310.4,780.2 311.6,780.4 312.8,780.5 314.0,780.7 315.2,780.8 316.4,780.9 317.6,781.0 318.8,781.1 320.0,781.2 321.2,781.3 322.4,781.4 323.6,781.5 324.8,781.6 326.0,781.6 327.2,781.7 328.4,781.7 329.6,781.8 330.8,781.8 332.0,781.8 333.2,781.9 334.4,781.9 335.6,781.9 336.8,781.9 338.0,782.0 339.2,782.0 340.4,782.0 341.6,782.0 342.8,782.0 344.0,782.0 345.2,782.0 346.4,782.1 347.6,782.1 348.8,782.1 350.0,782.1" fill="none" stroke="#000000" stroke-width="1.80" stroke-linejoin="round" stroke-linecap="round" clip-path="url(#clipc)"/>
<path d="M35.5,690.0 35.7,691.2 36.0,692.4 36.2,693.5 36.4,694.7 36.7,695.9 36.9,697.1 37.1,698.3 37.4,699.4 37.6,700.6 37.9,701.8 38.1,703.0 38.3,704.2 38.6,705.3 38.8,706.5 39.1,707.7 39.3,708.9 39.6,710.0 39.8,711.2 40.1,712.4 40.4,713.6 40.6,714.7 40.9,715.9 41.2,717.1 41.5,718.2 41.8,719.4 42.1,720.6 42.4,721.7 42.7,722.9 43.0,724.1 43.3,725.2 43.6,726.4 43.9,727.6 44.2,728.7 44.5,729.9 44.8,731.0 45.1,732.2 45.4,733.4 45.8,734.5 46.1,735.7 46.4,736.9 46.7,738.0 47.1,739.2 47.4,740.3 47.8,741.5 48.2,742.6 48.6,743.7 49.0,744.9 49.4,746.0 49.9,747.1 50.3,748.2 50.8,749.3 51.3,750.4 51.9,751.5 52.4,752.5 53.0,753.6 53.6,754.6 54.2,755.7 54.8,756.7 55.5,757.7 56.1,758.7 56.8,759.7 57.5,760.7 58.2,761.7 59.0,762.6 59.8,763.5 60.7,764.3 61.6,765.1 62.6,765.7 63.7,766.3 64.8,766.7 65.9,767.0 67.1,767.2 68.3,767.3 69.5,767.3 70.7,767.3 71.9,767.1 73.0,766.8 74.2,766.4 75.3,765.9 76.3,765.3 77.4,764.7 78.4,764.1 79.4,763.3 80.3,762.6 81.2,761.8 82.1,761.0 83.0,760.2 83.9,759.4 84.8,758.6 85.7,757.8 86.6,757.0 87.5,756.2 88.3,755.3 89.2,754.5 90.1,753.7 91.0,752.9 92.0,752.2 93.0,751.5 94.0,750.9 95.0,750.2 96.0,749.6 97.0,749.0 98.1,748.4 99.1,747.8 100.2,747.2 101.2,746.6 102.3,746.1 103.4,745.6 104.5,745.2 105.7,744.9 106.9,744.6 108.0,744.3 109.2,744.0 110.4,743.8 111.6,743.6 112.8,743.6 114.0,743.6 115.2,743.7 116.4,743.8 117.5,744.0 118.7,744.2 119.9,744.4 121.1,744.6 122.3,744.8 123.5,744.9 124.7,745.1 125.9,745.2 127.1,745.4 128.3,745.5 129.5,745.5 130.7,745.4 131.9,745.3 133.1,745.1 134.2,744.9 135.4,744.6 136.5,744.2 137.7,743.8 138.7,743.3 139.8,742.7 140.8,742.0 141.8,741.3 142.8,740.7 143.8,740.0 144.8,739.4 145.8,738.7 146.8,738.0 147.8,737.4 148.8,736.7 149.8,736.0 150.7,735.2 151.6,734.5 152.6,733.7 153.5,732.9 154.4,732.2 155.3,731.4 156.2,730.6 157.2,729.8 158.1,729.0 159.0,728.3 159.9,727.5 160.8,726.7 161.8,725.9 162.7,725.2 163.6,724.4 164.6,723.7 165.5,722.9 166.5,722.2 167.4,721.5 168.4,720.8 169.4,720.1 170.4,719.4 171.4,718.8 172.4,718.1 173.4,717.5 174.5,716.9 175.5,716.3 176.6,715.7 177.6,715.2 178.7,714.6 179.8,714.0 180.9,713.5 181.9,713.0 183.0,712.5 184.2,712.0 185.3,711.6 186.4,711.2 187.5,710.8 188.7,710.5 189.9,710.1 191.0,709.9 192.2,709.6 193.4,709.4 194.6,709.1 195.7,709.0 196.9,708.8 198.1,708.7 199.3,708.7 200.5,708.8 201.7,708.9 202.9,709.1 204.1,709.4 205.2,709.8 206.4,710.2 207.5,710.6 208.6,711.1 209.6,711.7 210.7,712.2 211.8,712.8 212.8,713.4 213.8,714.1 214.8,714.8 215.8,715.5 216.7,716.2 217.7,716.9 218.6,717.7 219.5,718.5 220.4,719.3 221.3,720.1 222.1,721.0 223.0,721.8 223.8,722.7 224.6,723.6 225.4,724.5 226.1,725.4 226.9,726.4 227.7,727.3 228.4,728.2 229.2,729.2 230.0,730.1 230.8,731.0 231.6,731.9 232.4,732.8 233.2,733.7 234.0,734.5 234.8,735.5 235.5,736.4 236.2,737.4 236.9,738.4 237.6,739.4 238.2,740.4 238.9,741.4 239.5,742.4 240.2,743.4 240.8,744.4 241.5,745.4 242.2,746.4 242.8,747.4 243.6,748.4 244.3,749.3 245.0,750.3 245.8,751.2 246.6,752.1 247.4,753.0 248.2,753.9 249.0,754.8 249.8,755.7 250.6,756.6 251.4,757.5 252.2,758.4 253.1,759.3 253.9,760.1 254.7,761.0 255.5,761.9 256.4,762.7 257.2,763.6 258.1,764.4 259.0,765.3 259.9,766.1 260.8,766.9 261.7,767.6 262.6,768.4 263.6,769.1 264.5,769.9 265.5,770.6 266.5,771.3 267.5,771.9 268.5,772.6 269.5,773.2 270.6,773.8 271.6,774.4 272.7,774.9 273.8,775.4 274.9,775.9 276.0,776.4 277.1,776.9 278.2,777.3 279.4,777.6 280.5,778.0 281.7,778.2 282.9,778.5 284.0,778.7 285.2,779.0 286.4,779.2 287.6,779.5 288.7,779.8 289.9,780.0 291.1,780.2 292.3,780.4 293.5,780.5 294.7,780.7 295.9,780.8 297.1,780.8 298.3,780.9 299.5,781.0 300.7,781.0 301.9,781.1 303.1,781.1 304.3,781.1 305.5,781.2 306.7,781.2 307.9,781.2 309.1,781.3 310.3,781.3 311.5,781.3 312.7,781.3 313.9,781.4 315.1,781.4 316.3,781.4 317.5,781.4 318.7,781.4 319.9,781.5 321.1,781.5 322.3,781.5 323.5,781.5 324.7,781.5 325.9,781.5 327.1,781.5 328.3,781.6 329.5,781.6 330.8,781.6 332.0,781.6 333.2,781.6 334.4,781.6 335.6,781.6 336.8,781.7 338.0,781.7 339.2,781.7 340.4,781.7 341.6,781.7 342.8,781.7 344.0,781.7 345.2,781.7 346.4,781.8 347.6,781.8 348.8,781.8 350.0,781.8" fill="none" stroke="#d62a2e" stroke-width="2.20" stroke-linejoin="round" stroke-linecap="round" clip-path="url(#clipc)"/>
<path d="M35.5,688.0 35.7,689.2 36.0,690.4 36.2,691.5 36.4,692.7 36.7,693.9 36.9,695.1 37.1,696.3 37.4,697.4 37.6,698.6 37.9,699.8 38.1,701.0 38.3,702.1 38.6,703.3 38.8,704.5 39.0,705.7 39.3,706.9 39.6,708.0 39.8,709.2 40.1,710.4 40.4,711.5 40.6,712.7 40.9,713.9 41.2,715.0 41.5,716.2 41.8,717.4 42.1,718.5 42.4,719.7 42.6,720.9 42.9,722.0 43.3,723.2 43.6,724.4 43.9,725.5 44.2,726.7 44.5,727.8 44.8,729.0 45.1,730.2 45.4,731.3 45.8,732.5 46.1,733.6 46.4,734.8 46.7,736.0 47.1,737.1 47.4,738.3 47.8,739.4 48.1,740.6 48.5,741.7 48.9,742.8 49.4,743.9 49.8,745.1 50.3,746.2 50.8,747.3 51.3,748.3 51.8,749.4 52.4,750.5 53.0,751.5 53.6,752.6 54.2,753.6 54.8,754.6 55.4,755.7 56.1,756.7 56.7,757.7 57.4,758.7 58.1,759.7 58.8,760.6 59.6,761.5 60.5,762.4 61.4,763.2 62.3,763.8 63.4,764.4 64.5,764.8 65.7,765.1 66.9,765.2 68.1,765.3 69.3,765.4 70.5,765.3 71.7,765.2 72.8,765.0 74.0,764.7 75.1,764.3 76.2,763.8 77.3,763.3 78.3,762.6 79.3,761.9 80.2,761.2 81.1,760.4 82.0,759.6 82.9,758.8 83.8,758.0 84.7,757.2 85.6,756.4 86.5,755.6 87.4,754.8 88.3,754.0 89.1,753.2 90.0,752.4 91.0,751.6 91.9,750.9 92.9,750.2 93.9,749.5 94.9,748.8 95.9,748.2 96.9,747.5 97.9,746.9 99.0,746.3 100.0,745.6 101.0,745.0 102.0,744.3 102.9,743.6 103.9,743.0 105.0,742.7 106.2,742.6 107.4,742.5 108.6,742.5 109.8,742.6 111.0,742.6 112.2,742.7 113.4,742.7 114.6,742.8 115.8,742.9 117.0,743.0 118.2,743.1 119.4,743.2 120.6,743.3 121.7,743.5 122.9,743.7 124.1,743.9 125.3,744.0 126.5,744.2 127.7,744.4 128.9,744.5 130.1,744.7 131.3,744.8 132.5,744.9 133.7,745.0 134.9,744.9 136.0,744.8 137.2,744.4 138.2,743.9 139.3,743.4 140.4,742.9 141.5,742.4 142.6,741.9 143.7,741.5 144.8,741.0 145.9,740.5 147.0,740.0 148.1,739.5 149.2,738.9 150.2,738.3 151.2,737.7 152.2,736.9 153.1,736.2 154.0,735.4 154.9,734.6 155.8,733.8 156.7,733.0 157.6,732.3 158.6,731.5 159.6,730.8 160.5,730.1 161.5,729.4 162.4,728.6 163.4,727.9 164.3,727.2 165.3,726.4 166.3,725.7 167.2,725.0 168.2,724.3 169.1,723.6 170.1,722.9 171.1,722.2 172.2,721.6 173.2,721.0 174.2,720.4 175.3,719.8 176.4,719.2 177.4,718.7 178.5,718.2 179.6,717.7 180.7,717.3 181.8,716.8 183.0,716.4 184.1,716.0 185.2,715.6 186.4,715.2 187.5,714.9 188.7,714.6 189.9,714.3 191.1,714.1 192.2,713.9 193.4,713.7 194.6,713.5 195.8,713.4 197.0,713.3 198.2,713.3 199.4,713.4 200.6,713.4 201.8,713.6 203.0,713.8 204.2,714.0 205.3,714.3 206.5,714.6 207.6,715.0 208.7,715.5 209.8,715.9 210.9,716.5 212.0,717.0 213.0,717.6 214.0,718.2 215.1,718.9 216.0,719.6 217.0,720.3 218.0,721.0 218.9,721.7 219.8,722.5 220.8,723.3 221.7,724.1 222.5,724.9 223.4,725.7 224.3,726.6 225.1,727.4 226.0,728.3 226.8,729.2 227.6,730.0 228.4,730.9 229.2,731.8 230.0,732.7 230.8,733.6 231.6,734.5 232.4,735.4 233.2,736.4 233.9,737.3 234.7,738.2 235.5,739.1 236.2,740.1 237.0,741.0 237.7,741.9 238.5,742.9 239.3,743.8 240.0,744.7 240.8,745.7 241.5,746.6 242.2,747.6 243.0,748.5 243.8,749.4 244.5,750.3 245.3,751.2 246.1,752.1 246.9,753.1 247.7,754.0 248.5,754.9 249.3,755.8 250.1,756.6 250.9,757.5 251.7,758.4 252.5,759.3 253.4,760.2 254.2,761.0 255.0,761.9 255.9,762.8 256.7,763.6 257.6,764.5 258.4,765.3 259.3,766.1 260.2,766.9 261.1,767.7 262.1,768.4 263.0,769.2 264.0,769.9 264.9,770.6 265.9,771.3 266.9,772.0 267.9,772.6 269.0,773.3 270.0,773.9 271.1,774.4 272.1,775.0 273.2,775.5 274.3,776.0 275.4,776.4 276.5,776.9 277.7,777.3 278.8,777.6 280.0,778.0 281.1,778.2 282.3,778.5 283.5,778.7 284.7,778.9 285.9,779.2 287.0,779.4 288.2,779.7 289.4,779.9 290.6,780.2 291.8,780.3 292.9,780.5 294.1,780.6 295.3,780.7 296.5,780.8 297.7,780.9 298.9,780.9 300.1,781.0 301.3,781.1 302.5,781.1 303.7,781.1 304.9,781.2 306.1,781.2 307.3,781.2 308.5,781.3 309.7,781.3 310.9,781.3 312.1,781.4 313.3,781.4 314.6,781.4 315.8,781.4 317.0,781.5 318.2,781.5 319.4,781.5 320.6,781.5 321.8,781.6 323.0,781.6 324.2,781.6 325.4,781.6 326.6,781.6 327.8,781.7 329.0,781.7 330.2,781.7 331.4,781.7 332.6,781.7 333.8,781.7 335.0,781.8 336.2,781.8 337.4,781.8 338.6,781.8 339.8,781.8 341.0,781.9 342.2,781.9 343.4,781.9 344.6,781.9 345.8,781.9 347.0,781.9 348.2,782.0 349.4,782.0 350.0,782.0" fill="none" stroke="#2a4a90" stroke-width="2.20" stroke-linejoin="round" stroke-linecap="round" clip-path="url(#clipc)"/>
<path d="M35.5,686.0 35.7,687.2 35.9,688.4 36.1,689.5 36.4,690.7 36.6,691.9 36.8,693.1 37.1,694.3 37.3,695.4 37.6,696.6 37.8,697.8 38.1,699.0 38.4,700.1 38.6,701.3 38.9,702.5 39.2,703.6 39.5,704.8 39.8,706.0 40.0,707.2 40.3,708.3 40.6,709.5 40.9,710.7 41.2,711.8 41.5,713.0 41.7,714.2 42.0,715.3 42.3,716.5 42.6,717.7 42.9,718.8 43.2,720.0 43.5,721.2 43.8,722.3 44.1,723.5 44.4,724.6 44.8,725.8 45.1,727.0 45.4,728.1 45.7,729.3 46.0,730.4 46.3,731.6 46.7,732.8 47.0,733.9 47.4,735.1 47.7,736.2 48.1,737.4 48.5,738.5 48.9,739.6 49.3,740.8 49.7,741.9 50.2,743.0 50.7,744.1 51.2,745.2 51.7,746.3 52.2,747.4 52.7,748.4 53.3,749.5 53.9,750.5 54.5,751.6 55.1,752.6 55.7,753.7 56.3,754.7 57.0,755.7 57.7,756.7 58.4,757.7 59.1,758.6 59.9,759.5 60.7,760.4 61.6,761.2 62.6,761.8 63.7,762.4 64.8,762.8 65.9,763.1 67.1,763.3 68.3,763.4 69.5,763.5 70.7,763.4 71.9,763.3 73.1,763.0 74.2,762.7 75.3,762.3 76.4,761.8 77.5,761.2 78.5,760.5 79.4,759.8 80.4,759.0 81.3,758.3 82.2,757.5 83.1,756.7 84.0,755.9 84.9,755.1 85.8,754.3 86.7,753.5 87.6,752.7 88.5,751.8 89.3,751.0 90.2,750.2 91.2,749.5 92.1,748.7 93.0,748.0 94.0,747.2 95.0,746.5 95.9,745.8 96.9,745.1 97.8,744.3 98.8,743.6 99.8,742.9 100.8,742.2 101.7,741.5 102.7,740.8 103.7,740.2 104.8,739.8 106.0,739.6 107.2,739.4 108.4,739.3 109.6,739.2 110.8,739.2 112.0,739.2 113.2,739.3 114.4,739.5 115.5,739.8 116.7,740.1 117.8,740.5 119.0,740.9 120.1,741.3 121.2,741.6 122.4,742.0 123.6,742.3 124.7,742.6 125.9,742.9 127.0,743.2 128.2,743.5 129.4,743.7 130.6,744.0 131.8,744.1 133.0,744.2 134.2,744.3 135.3,744.4 136.5,744.5 137.7,744.7 138.9,744.9 140.1,745.1 141.3,745.3 142.5,745.4 143.7,745.5 144.9,745.5 146.1,745.4 147.3,745.2 148.4,745.0 149.6,744.6 150.7,744.1 151.7,743.6 152.8,743.0 153.8,742.4 154.8,741.7 155.8,741.0 156.8,740.4 157.8,739.7 158.8,739.1 159.9,738.5 161.0,738.0 162.1,737.5 163.1,736.9 164.1,736.3 165.2,735.7 166.2,735.1 167.3,734.6 168.5,734.3 169.6,733.9 170.8,733.6 171.8,733.1 172.6,732.3 173.2,731.3 173.8,730.3 174.6,729.5 175.5,728.7 176.6,728.1 177.6,727.5 178.7,727.0 179.7,726.4 180.8,725.9 181.9,725.4 183.0,724.9 184.1,724.4 185.1,723.8 186.2,723.2 187.2,722.6 188.2,721.9 189.2,721.3 190.3,720.8 191.4,720.3 192.5,719.9 193.7,719.4 194.8,719.0 195.9,718.7 197.1,718.4 198.3,718.3 199.5,718.2 200.7,718.3 201.9,718.4 203.1,718.6 204.2,718.9 205.4,719.2 206.5,719.5 207.7,719.9 208.8,720.4 209.9,720.9 211.0,721.4 212.0,721.9 213.1,722.5 214.1,723.1 215.2,723.8 216.2,724.4 217.2,725.1 218.1,725.8 219.1,726.5 220.1,727.2 221.0,728.0 221.9,728.7 222.9,729.5 223.8,730.3 224.7,731.0 225.6,731.8 226.5,732.6 227.4,733.4 228.3,734.3 229.2,735.1 230.0,735.9 230.9,736.7 231.8,737.6 232.6,738.4 233.5,739.3 234.3,740.1 235.1,741.0 236.0,741.9 236.8,742.7 237.6,743.6 238.5,744.5 239.3,745.4 240.1,746.2 241.0,747.1 241.8,747.9 242.7,748.8 243.5,749.6 244.3,750.5 245.1,751.4 245.9,752.3 246.7,753.2 247.5,754.2 248.3,755.1 249.0,756.0 249.8,756.9 250.7,757.8 251.5,758.6 252.3,759.5 253.1,760.4 254.0,761.2 254.8,762.1 255.7,762.9 256.5,763.8 257.4,764.6 258.3,765.4 259.2,766.2 260.1,767.0 261.0,767.8 262.0,768.5 262.9,769.2 263.9,770.0 264.9,770.6 265.9,771.3 266.9,772.0 267.9,772.6 268.9,773.2 270.0,773.8 271.0,774.4 272.1,774.9 273.2,775.5 274.3,775.9 275.4,776.4 276.5,776.8 277.6,777.2 278.8,777.6 279.9,778.0 281.1,778.2 282.3,778.5 283.5,778.7 284.7,778.9 285.8,779.2 287.0,779.4 288.2,779.7 289.4,779.9 290.5,780.2 291.7,780.3 292.9,780.5 294.1,780.6 295.3,780.7 296.5,780.8 297.7,780.9 298.9,780.9 300.1,781.0 301.3,781.1 302.5,781.1 303.7,781.1 304.9,781.2 306.1,781.2 307.3,781.2 308.5,781.3 309.7,781.3 310.9,781.3 312.1,781.4 313.3,781.4 314.5,781.4 315.7,781.4 316.9,781.5 318.1,781.5 319.3,781.5 320.5,781.5 321.7,781.6 322.9,781.6 324.2,781.6 325.4,781.6 326.6,781.6 327.8,781.7 329.0,781.7 330.2,781.7 331.4,781.7 332.6,781.7 333.8,781.7 335.0,781.8 336.2,781.8 337.4,781.8 338.6,781.8 339.8,781.8 341.0,781.9 342.2,781.9 343.4,781.9 344.6,781.9 345.8,781.9 347.0,781.9 348.2,782.0 349.4,782.0 350.0,782.0" fill="none" stroke="#b050b0" stroke-width="2.20" stroke-linejoin="round" stroke-linecap="round" clip-path="url(#clipc)"/>
<path d="M35.5,676.0 35.7,677.2 36.0,678.4 36.2,679.5 36.4,680.7 36.7,681.9 36.9,683.1 37.1,684.3 37.4,685.4 37.6,686.6 37.8,687.8 38.1,689.0 38.3,690.1 38.5,691.3 38.8,692.5 39.0,693.7 39.3,694.9 39.5,696.0 39.8,697.2 40.1,698.4 40.4,699.5 40.7,700.7 41.0,701.9 41.2,703.0 41.5,704.2 41.7,705.4 41.9,706.6 42.2,707.8 42.4,708.9 42.7,710.1 43.0,711.3 43.3,712.4 43.6,713.6 43.9,714.8 44.2,715.9 44.5,717.1 44.8,718.2 45.1,719.4 45.5,720.6 45.8,721.7 46.1,722.9 46.4,724.0 46.8,725.2 47.1,726.3 47.4,727.5 47.7,728.7 48.1,729.8 48.4,731.0 48.7,732.1 49.1,733.3 49.4,734.4 49.8,735.6 50.1,736.7 50.5,737.9 50.8,739.0 51.2,740.2 51.5,741.3 51.9,742.5 52.3,743.6 52.8,744.7 53.3,745.8 53.9,746.8 54.6,747.8 55.3,748.8 55.9,749.8 56.6,750.8 57.3,751.8 58.0,752.8 58.7,753.7 59.4,754.7 60.2,755.6 61.0,756.5 61.8,757.3 62.8,758.1 63.8,758.7 64.8,759.3 66.0,759.7 67.1,759.9 68.3,760.0 69.5,760.0 70.7,759.9 71.9,759.7 73.1,759.5 74.2,759.1 75.3,758.7 76.4,758.3 77.5,757.7 78.5,757.1 79.5,756.4 80.4,755.6 81.3,754.9 82.2,754.1 83.1,753.2 84.0,752.4 84.9,751.6 85.8,750.9 86.7,750.1 87.6,749.3 88.5,748.4 89.3,747.5 90.0,746.6 90.7,745.6 91.5,744.7 92.2,743.8 93.1,742.9 93.9,742.0 94.8,741.3 95.8,740.5 96.8,739.9 97.8,739.2 98.8,738.6 99.8,737.9 100.9,737.3 101.9,736.8 103.0,736.3 104.2,736.0 105.4,735.8 106.6,735.7 107.7,735.6 108.9,735.5 110.1,735.5 111.3,735.7 112.5,735.9 113.7,736.2 114.8,736.6 115.8,737.2 116.8,737.9 117.7,738.7 118.6,739.5 119.5,740.3 120.4,741.1 121.3,741.9 122.2,742.7 123.1,743.4 124.0,744.2 125.0,745.0 125.9,745.8 126.8,746.6 127.7,747.4 128.6,748.2 129.5,748.9 130.5,749.5 131.6,750.2 132.6,750.7 133.7,751.3 134.8,751.8 135.9,752.3 137.0,752.8 138.1,753.2 139.2,753.6 140.4,754.0 141.5,754.3 142.7,754.7 143.8,755.0 145.0,755.3 146.1,755.6 147.3,755.9 148.5,756.0 149.7,756.0 150.9,755.9 152.0,755.7 153.2,755.4 154.4,755.2 155.6,754.9 156.7,754.6 157.9,754.3 159.0,753.9 160.2,753.5 161.3,753.1 162.4,752.6 163.5,752.1 164.6,751.6 165.7,751.1 166.8,750.7 167.9,750.3 169.1,750.0 170.2,749.7 171.3,749.3 172.3,748.7 173.0,747.8 173.6,746.9 174.5,746.1 175.5,745.6 176.6,745.2 177.8,744.8 178.9,744.5 180.1,744.2 181.3,743.9 182.4,743.6 183.6,743.3 184.8,743.0 185.9,742.8 187.1,742.5 188.3,742.2 189.5,742.0 190.6,741.8 191.8,741.5 193.0,741.3 194.2,741.0 195.4,740.9 196.6,740.7 197.7,740.6 199.0,740.6 200.2,740.6 201.4,740.7 202.6,740.7 203.8,740.8 204.9,741.0 206.1,741.1 207.3,741.3 208.5,741.6 209.7,741.8 210.8,742.2 212.0,742.6 213.1,743.0 214.2,743.5 215.3,743.9 216.4,744.4 217.5,744.9 218.6,745.5 219.6,746.0 220.7,746.5 221.8,747.0 222.9,747.6 223.9,748.1 225.0,748.7 226.0,749.3 227.1,749.9 228.1,750.5 229.2,751.1 230.2,751.7 231.3,752.3 232.3,752.9 233.3,753.5 234.4,754.1 235.4,754.7 236.4,755.3 237.5,755.9 238.6,756.5 239.6,757.1 240.6,757.7 241.7,758.3 242.7,759.0 243.7,759.6 244.7,760.3 245.6,761.0 246.6,761.7 247.6,762.4 248.6,763.1 249.6,763.7 250.6,764.4 251.6,765.1 252.6,765.7 253.6,766.4 254.6,767.0 255.6,767.7 256.7,768.3 257.7,769.0 258.7,769.6 259.7,770.2 260.8,770.8 261.8,771.3 262.9,771.9 264.0,772.4 265.1,772.9 266.2,773.4 267.3,773.8 268.5,774.2 269.6,774.6 270.7,775.0 271.9,775.4 273.0,775.8 274.2,776.1 275.3,776.5 276.4,776.8 277.6,777.2 278.8,777.5 279.9,777.8 281.1,778.1 282.3,778.4 283.4,778.6 284.6,778.8 285.8,779.0 287.0,779.3 288.2,779.5 289.3,779.7 290.5,779.9 291.7,780.0 292.9,780.1 294.1,780.2 295.3,780.3 296.5,780.3 297.7,780.4 298.9,780.5 300.1,780.5 301.3,780.5 302.5,780.6 303.7,780.6 304.9,780.7 306.1,780.7 307.3,780.7 308.5,780.8 309.7,780.8 310.9,780.8 312.1,780.8 313.3,780.9 314.5,780.9 315.7,780.9 316.9,780.9 318.1,781.0 319.4,781.0 320.6,781.0 321.8,781.0 323.0,781.0 324.2,781.1 325.4,781.1 326.6,781.1 327.8,781.1 329.0,781.2 330.2,781.2 331.4,781.2 332.6,781.2 333.8,781.2 335.0,781.3 336.2,781.3 337.4,781.3 338.6,781.3 339.8,781.3 341.0,781.3 342.2,781.4 343.4,781.4 344.6,781.4 345.8,781.4 347.0,781.4 348.2,781.5 349.4,781.5 350.0,781.5" fill="none" stroke="#1f7035" stroke-width="2.20" stroke-linejoin="round" stroke-linecap="round" clip-path="url(#clipc)"/>
<path d="M35.5,678.0 35.6,679.2 35.8,680.4 35.9,681.6 36.0,682.8 36.2,684.0 36.3,685.2 36.4,686.4 36.6,687.6 36.7,688.8 36.9,690.0 37.0,691.1 37.2,692.3 37.4,693.5 37.6,694.7 37.8,695.9 38.0,697.1 38.2,698.3 38.5,699.4 38.7,700.6 39.0,701.8 39.2,703.0 39.5,704.1 39.8,705.3 40.1,706.5 40.4,707.6 40.7,708.8 40.9,710.0 41.2,711.1 41.5,712.3 41.8,713.5 42.1,714.6 42.4,715.8 42.8,717.0 43.1,718.1 43.4,719.3 43.7,720.4 44.0,721.6 44.4,722.8 44.7,723.9 45.0,725.1 45.3,726.2 45.6,727.4 46.0,728.6 46.3,729.7 46.6,730.9 46.9,732.1 47.1,733.2 47.4,734.4 47.7,735.6 47.9,736.7 48.2,737.9 48.5,739.1 48.8,740.3 49.1,741.4 49.5,742.6 49.9,743.7 50.3,744.8 50.8,745.9 51.3,747.0 51.9,748.0 52.5,749.1 53.1,750.1 53.8,751.1 54.4,752.1 55.1,753.1 55.8,754.1 56.4,755.1 57.1,756.1 57.8,757.1 58.5,758.1 59.3,759.0 60.1,759.9 60.9,760.8 61.8,761.5 62.8,762.2 63.9,762.7 65.0,763.1 66.2,763.4 67.4,763.6 68.6,763.7 69.8,763.8 71.0,763.7 72.2,763.6 73.3,763.4 74.5,763.1 75.6,762.7 76.7,762.2 77.8,761.7 78.8,761.0 79.7,760.3 80.7,759.5 81.6,758.7 82.5,757.9 83.3,757.1 84.2,756.2 85.1,755.4 85.9,754.6 86.8,753.7 87.6,752.9 88.5,752.0 89.3,751.2 90.2,750.3 91.1,749.5 92.0,748.8 93.0,748.0 93.9,747.3 94.9,746.6 95.9,745.9 96.9,745.2 97.9,744.6 98.9,743.9 99.9,743.2 100.9,742.6 101.9,742.0 103.0,741.4 104.1,741.1 105.3,740.9 106.5,740.7 107.7,740.6 108.9,740.5 110.1,740.5 111.3,740.6 112.5,740.8 113.7,741.0 114.8,741.3 116.0,741.6 117.1,741.9 118.3,742.3 119.4,742.7 120.5,743.2 121.6,743.7 122.6,744.3 123.6,745.0 124.6,745.7 125.4,746.5 126.2,747.4 126.9,748.4 127.6,749.4 128.2,750.5 128.7,751.5 129.3,752.6 129.9,753.6 130.4,754.7 130.9,755.8 131.4,756.9 132.0,758.0 132.5,759.0 133.1,760.1 133.8,761.1 134.5,762.0 135.3,763.0 136.1,763.9 136.9,764.7 137.9,765.4 138.9,766.0 140.0,766.6 141.1,767.0 142.2,767.5 143.3,768.0 144.4,768.5 145.5,768.9 146.7,769.3 147.8,769.5 149.0,769.6 150.2,769.5 151.4,769.5 152.6,769.3 153.8,769.2 155.0,769.0 156.2,768.8 157.4,768.6 158.6,768.4 159.8,768.1 160.9,767.9 162.1,767.7 163.3,767.4 164.5,767.1 165.6,766.9 166.8,766.6 168.0,766.3 169.1,766.0 170.3,765.8 171.5,765.5 172.7,765.2 173.8,764.9 175.0,764.6 176.2,764.4 177.3,764.1 178.5,763.8 179.7,763.5 180.9,763.3 182.0,763.1 183.2,762.9 184.4,762.7 185.6,762.5 186.8,762.3 188.0,762.1 189.2,761.9 190.3,761.7 191.5,761.5 192.7,761.2 193.9,761.0 195.1,760.8 196.2,760.6 197.4,760.4 198.6,760.3 199.8,760.3 201.0,760.3 202.2,760.4 203.4,760.4 204.6,760.5 205.8,760.6 207.0,760.8 208.2,760.9 209.4,761.1 210.6,761.2 211.8,761.4 213.0,761.6 214.2,761.8 215.4,762.0 216.5,762.2 217.7,762.5 218.9,762.7 220.1,762.9 221.3,763.1 222.4,763.4 223.6,763.7 224.8,764.0 225.9,764.3 227.1,764.6 228.2,765.0 229.4,765.4 230.5,765.8 231.6,766.2 232.8,766.6 233.9,767.0 235.0,767.4 236.2,767.8 237.3,768.2 238.4,768.7 239.6,769.1 240.7,769.4 241.8,769.8 243.0,770.1 244.2,770.4 245.3,770.7 246.5,771.0 247.7,771.3 248.8,771.6 250.0,771.9 251.2,772.2 252.3,772.5 253.5,772.8 254.6,773.2 255.8,773.6 256.9,774.1 258.0,774.6 259.0,775.1 260.1,775.6 261.2,776.1 262.3,776.6 263.5,777.0 264.6,777.3 265.8,777.6 266.9,777.9 268.1,778.2 269.3,778.5 270.4,778.8 271.6,779.1 272.8,779.4 274.0,779.6 275.1,779.9 276.3,780.2 277.5,780.4 278.7,780.7 279.8,780.9 281.0,781.1 282.2,781.3 283.4,781.5 284.6,781.6 285.8,781.8 287.0,782.1 288.1,782.3 289.3,782.5 290.5,782.7 291.7,782.9 292.9,783.0 294.1,783.1 295.3,783.2 296.5,783.3 297.7,783.4 298.9,783.4 300.1,783.5 301.3,783.5 302.5,783.6 303.7,783.6 304.9,783.7 306.1,783.7 307.3,783.7 308.5,783.8 309.7,783.8 310.9,783.8 312.1,783.8 313.3,783.9 314.5,783.9 315.7,783.9 316.9,783.9 318.1,784.0 319.3,784.0 320.5,784.0 321.7,784.0 322.9,784.1 324.1,784.1 325.3,784.1 326.5,784.1 327.7,784.1 329.0,784.2 330.2,784.2 331.4,784.2 332.6,784.2 333.8,784.2 335.0,784.3 336.2,784.3 337.4,784.3 338.6,784.3 339.8,784.3 341.0,784.4 342.2,784.4 343.4,784.4 344.6,784.4 345.8,784.4 347.0,784.4 348.2,784.5 349.4,784.5 350.0,784.5" fill="none" stroke="#1a1a50" stroke-width="2.20" stroke-linejoin="round" stroke-linecap="round" clip-path="url(#clipc)"/>
<path d="M35.5,678.8 35.6,680.0 35.8,681.2 35.9,682.4 36.0,683.6 36.2,684.8 36.3,686.0 36.4,687.2 36.6,688.4 36.7,689.6 36.9,690.7 37.0,691.9 37.2,693.1 37.4,694.3 37.6,695.5 37.8,696.7 38.0,697.9 38.2,699.1 38.5,700.2 38.7,701.4 39.0,702.6 39.2,703.8 39.5,704.9 39.8,706.1 40.1,707.3 40.4,708.4 40.7,709.6 40.9,710.8 41.2,711.9 41.5,713.1 41.8,714.3 42.1,715.4 42.4,716.6 42.8,717.7 43.1,718.9 43.4,720.1 43.7,721.2 44.0,722.4 44.4,723.5 44.7,724.7 45.0,725.9 45.3,727.0 45.6,728.2 46.0,729.3 46.3,730.5 46.6,731.7 46.9,732.8 47.1,734.0 47.4,735.2 47.7,736.3 47.9,737.5 48.2,738.7 48.5,739.9 48.8,741.0 49.1,742.2 49.4,743.3 49.9,744.5 50.3,745.6 50.8,746.7 51.3,747.8 51.9,748.8 52.5,749.9 53.1,750.9 53.8,751.9 54.4,752.9 55.1,753.9 55.7,754.9 56.4,755.9 57.1,756.9 57.8,757.9 58.5,758.9 59.2,759.8 60.0,760.7 60.9,761.5 61.8,762.3 62.8,762.9 63.9,763.5 65.0,763.9 66.2,764.2 67.3,764.4 68.5,764.5 69.7,764.6 70.9,764.5 72.1,764.4 73.3,764.2 74.5,763.9 75.6,763.5 76.7,763.1 77.8,762.5 78.8,761.8 79.7,761.1 80.6,760.3 81.5,759.5 82.4,758.7 83.3,757.9 84.2,757.1 85.0,756.2 85.9,755.4 86.8,754.6 87.6,753.7 88.4,752.8 89.3,752.0 90.2,751.2 91.1,750.4 92.0,749.6 92.9,748.9 93.9,748.1 94.9,747.4 95.9,746.7 96.8,746.1 97.8,745.4 98.8,744.7 99.8,744.1 100.9,743.4 101.9,742.8 102.9,742.3 104.1,741.9 105.2,741.7 106.4,741.5 107.6,741.4 108.8,741.3 110.0,741.3 111.2,741.4 112.4,741.6 113.6,741.8 114.8,742.0 115.9,742.4 117.1,742.7 118.2,743.1 119.3,743.5 120.5,744.0 121.5,744.5 122.6,745.1 123.6,745.7 124.5,746.5 125.4,747.3 126.2,748.2 126.9,749.2 127.5,750.2 128.1,751.2 128.7,752.3 129.3,753.3 129.8,754.4 130.4,755.5 130.9,756.6 131.4,757.6 131.9,758.7 132.5,759.8 133.1,760.8 133.8,761.8 134.5,762.8 135.2,763.7 136.0,764.6 136.9,765.4 137.8,766.2 138.9,766.8 139.9,767.3 141.0,767.8 142.1,768.3 143.2,768.8 144.3,769.2 145.5,769.7 146.6,770.0 147.8,770.3 149.0,770.4 150.2,770.4 151.4,770.3 152.6,770.2 153.8,770.1 154.9,769.9 156.1,769.7 157.3,769.5 158.5,769.4 159.7,769.2 160.9,769.0 162.1,768.8 163.2,768.5 164.4,768.3 165.6,768.0 166.8,767.8 168.0,767.5 169.1,767.3 170.3,767.0 171.5,766.7 172.6,766.5 173.8,766.2 175.0,766.0 176.2,765.8 177.4,765.5 178.5,765.3 179.7,765.1 180.9,764.9 182.1,764.7 183.3,764.5 184.5,764.3 185.7,764.1 186.8,763.9 188.0,763.8 189.2,763.6 190.4,763.4 191.6,763.3 192.8,763.1 194.0,762.9 195.2,762.8 196.4,762.7 197.6,762.6 198.8,762.6 200.0,762.6 201.2,762.7 202.4,762.8 203.6,762.9 204.8,763.0 206.0,763.2 207.2,763.3 208.4,763.5 209.5,763.8 210.7,764.0 211.9,764.3 213.1,764.5 214.2,764.8 215.4,765.1 216.5,765.4 217.7,765.8 218.9,766.1 220.0,766.4 221.2,766.7 222.3,767.0 223.5,767.4 224.7,767.7 225.8,768.0 227.0,768.4 228.1,768.7 229.3,769.1 230.4,769.4 231.6,769.8 232.7,770.1 233.9,770.5 235.0,770.8 236.2,771.2 237.3,771.5 238.5,771.9 239.6,772.2 240.8,772.5 241.9,772.8 243.1,773.1 244.3,773.3 245.5,773.5 246.7,773.7 247.9,773.9 249.0,774.1 250.2,774.4 251.4,774.6 252.6,774.8 253.8,775.0 254.9,775.3 256.1,775.6 257.2,776.0 258.3,776.5 259.5,776.9 260.6,777.3 261.7,777.7 262.9,778.0 264.1,778.3 265.2,778.6 266.4,778.9 267.6,779.2 268.7,779.4 269.9,779.7 271.1,780.0 272.2,780.3 273.4,780.6 274.6,780.8 275.8,781.1 276.9,781.3 278.1,781.6 279.3,781.9 280.5,782.1 281.6,782.4 282.8,782.6 284.0,782.8 285.2,783.0 286.4,783.2 287.5,783.5 288.7,783.7 289.9,783.9 291.1,784.0 292.3,784.1 293.5,784.2 294.7,784.3 295.9,784.3 297.1,784.4 298.3,784.4 299.5,784.5 300.7,784.5 301.9,784.6 303.1,784.6 304.3,784.6 305.5,784.7 306.7,784.7 307.9,784.7 309.1,784.8 310.3,784.8 311.5,784.8 312.7,784.8 313.9,784.9 315.1,784.9 316.3,784.9 317.5,784.9 318.7,785.0 319.9,785.0 321.1,785.0 322.3,785.0 323.5,785.1 324.8,785.1 326.0,785.1 327.2,785.1 328.4,785.1 329.6,785.2 330.8,785.2 332.0,785.2 333.2,785.2 334.4,785.2 335.6,785.3 336.8,785.3 338.0,785.3 339.2,785.3 340.4,785.3 341.6,785.4 342.8,785.4 344.0,785.4 345.2,785.4 346.4,785.4 347.6,785.5 348.8,785.5 350.0,785.5" fill="none" stroke="#5a50a0" stroke-width="2.20" stroke-linejoin="round" stroke-linecap="round" clip-path="url(#clipc)"/>
<path d="M35.5,664.0 35.7,665.2 35.9,666.4 36.2,667.5 36.4,668.7 36.6,669.9 36.8,671.1 37.0,672.3 37.3,673.5 37.5,674.6 37.7,675.8 37.9,677.0 38.2,678.2 38.4,679.4 38.6,680.5 38.8,681.7 39.1,682.9 39.3,684.1 39.5,685.3 39.7,686.4 40.0,687.6 40.2,688.8 40.4,690.0 40.6,691.2 40.9,692.4 41.1,693.5 41.3,694.7 41.6,695.9 41.8,697.1 42.0,698.2 42.3,699.4 42.5,700.6 42.8,701.8 43.0,703.0 43.3,704.1 43.6,705.3 43.9,706.5 44.3,707.6 44.6,708.7 45.0,709.9 45.4,711.0 45.7,712.2 46.0,713.3 46.3,714.5 46.7,715.7 47.0,716.8 47.3,718.0 47.6,719.2 47.9,720.3 48.2,721.5 48.5,722.6 48.9,723.8 49.2,724.9 49.6,726.1 49.9,727.2 50.3,728.4 50.6,729.5 51.0,730.7 51.4,731.8 51.8,733.0 52.2,734.1 52.6,735.2 53.0,736.4 53.4,737.5 53.8,738.6 54.2,739.7 54.6,740.9 55.1,742.0 55.6,743.1 56.1,744.2 56.6,745.3 57.1,746.3 57.8,747.3 58.5,748.3 59.3,749.2 60.1,750.0 61.1,750.8 62.1,751.5 63.1,752.1 64.2,752.6 65.3,753.1 66.4,753.4 67.6,753.6 68.8,753.7 70.0,753.6 71.1,753.4 72.3,753.1 73.4,752.6 74.5,752.1 75.6,751.6 76.6,751.0 77.6,750.3 78.6,749.7 79.7,749.0 80.6,748.4 81.6,747.7 82.6,747.0 83.6,746.3 84.5,745.6 85.5,744.8 86.4,744.1 87.4,743.3 88.3,742.5 89.2,741.7 90.1,740.9 91.0,740.1 91.9,739.3 92.7,738.5 93.6,737.6 94.4,736.8 95.2,735.9 96.1,735.0 97.0,734.2 97.9,733.5 98.9,732.8 99.9,732.2 101.0,731.7 102.1,731.3 103.3,730.9 104.4,730.6 105.6,730.2 106.7,729.9 107.9,729.7 109.1,729.8 110.2,730.0 111.4,730.4 112.4,730.9 113.5,731.5 114.5,732.1 115.5,732.8 116.5,733.5 117.4,734.3 118.4,735.0 119.3,735.8 120.1,736.7 120.8,737.6 121.5,738.6 122.0,739.7 122.5,740.8 122.8,741.9 123.2,743.1 123.5,744.2 123.8,745.4 124.1,746.6 124.3,747.7 124.6,748.9 124.8,750.1 125.0,751.3 125.3,752.5 125.5,753.6 125.8,754.8 126.1,756.0 126.4,757.1 126.7,758.3 127.1,759.4 127.5,760.6 128.0,761.6 128.6,762.7 129.3,763.7 130.1,764.6 130.9,765.5 131.8,766.3 132.7,767.0 133.8,767.5 134.9,768.0 136.0,768.4 137.2,768.7 138.4,768.9 139.6,769.1 140.7,769.3 141.9,769.5 143.1,769.9 144.2,770.3 145.3,770.7 146.4,771.3 147.4,771.9 148.5,772.4 149.6,772.8 150.7,773.1 151.9,773.3 153.1,773.5 154.3,773.6 155.5,773.7 156.7,773.8 157.9,773.9 159.1,774.0 160.3,774.1 161.5,774.1 162.7,774.1 163.9,774.0 165.1,774.0 166.3,773.9 167.5,773.8 168.7,773.7 169.9,773.6 171.1,773.6 172.3,773.5 173.5,773.5 174.7,773.4 175.9,773.4 177.1,773.4 178.3,773.3 179.5,773.3 180.7,773.3 181.9,773.3 183.1,773.2 184.3,773.2 185.5,773.2 186.7,773.1 187.9,773.1 189.1,773.0 190.3,773.0 191.5,772.9 192.7,772.8 193.9,772.6 195.1,772.5 196.3,772.4 197.5,772.2 198.7,772.2 199.9,772.1 201.1,772.1 202.3,772.1 203.5,772.2 204.7,772.3 205.9,772.3 207.1,772.4 208.3,772.5 209.5,772.6 210.7,772.8 211.9,772.9 213.1,773.0 214.3,773.1 215.5,773.2 216.7,773.4 217.9,773.5 219.1,773.7 220.3,773.8 221.4,774.0 222.6,774.3 223.8,774.5 225.0,774.7 226.2,774.9 227.4,775.1 228.6,775.2 229.7,775.4 230.9,775.6 232.1,775.8 233.3,775.9 234.5,776.1 235.7,776.3 236.9,776.4 238.1,776.6 239.3,776.7 240.5,776.8 241.7,777.0 242.9,777.1 244.1,777.2 245.3,777.4 246.4,777.5 247.6,777.6 248.8,777.8 250.0,777.9 251.2,778.0 252.4,778.2 253.6,778.3 254.8,778.5 256.0,778.7 257.2,778.9 258.4,779.1 259.5,779.4 260.7,779.6 261.9,779.8 263.1,780.0 264.3,780.3 265.4,780.5 266.6,780.8 267.8,781.0 269.0,781.3 270.1,781.5 271.3,781.7 272.5,781.9 273.7,782.1 274.9,782.3 276.1,782.4 277.3,782.5 278.5,782.6 279.7,782.7 280.9,782.8 282.1,782.9 283.3,782.9 284.5,783.0 285.7,783.0 286.9,783.1 288.1,783.1 289.3,783.1 290.5,783.1 291.7,783.2 292.9,783.2 294.1,783.2 295.3,783.2 296.5,783.2 297.7,783.3 298.9,783.3 300.1,783.3 301.3,783.3 302.5,783.3 303.7,783.3 304.9,783.3 306.1,783.3 307.3,783.3 308.5,783.3 309.7,783.3 310.9,783.3 312.1,783.3 313.3,783.3 314.5,783.3 315.7,783.3 316.9,783.3 318.1,783.3 319.3,783.3 320.5,783.3 321.7,783.3 322.9,783.3 324.1,783.3 325.4,783.3 326.6,783.3 327.8,783.3 329.0,783.3 330.2,783.3 331.4,783.3 332.6,783.3 333.8,783.3 335.0,783.3 336.2,783.3 337.4,783.3 338.6,783.3 339.8,783.3 341.0,783.3 342.2,783.3 343.4,783.3 344.6,783.3 345.8,783.3 347.0,783.3 348.2,783.3 349.4,783.3 350.0,783.3" fill="none" stroke="#7a1a7a" stroke-width="2.60" stroke-linejoin="round" stroke-linecap="round" clip-path="url(#clipc)"/>
<text transform="translate(193.00,830.60) scale(1,1.070)" text-anchor="middle" font-size="12.50" fill="#111">Wavelength (nm)</text>
<text transform="translate(10.90,687.65) scale(1,1.000) rotate(-90)" text-anchor="middle" font-size="12.30" fill="#111">Absorbance</text>
<text transform="translate(44.60,588.30) scale(1,1.070)" font-size="14.00" fill="#111">c</text>
<line x1="280.0" y1="585.20" x2="306.9" y2="585.20" stroke="#000000" stroke-width="1.7"/>
<text transform="translate(310.20,589.80) scale(1,1.070)" font-size="12.60" fill="#111">0 min</text>
<line x1="280.0" y1="600.43" x2="306.9" y2="600.43" stroke="#d62a2e" stroke-width="1.7"/>
<text transform="translate(310.20,605.03) scale(1,1.070)" font-size="12.60" fill="#111">3 min</text>
<line x1="280.0" y1="615.66" x2="306.9" y2="615.66" stroke="#2a4a90" stroke-width="1.7"/>
<text transform="translate(310.20,620.26) scale(1,1.070)" font-size="12.60" fill="#111">6 min</text>
<line x1="280.0" y1="630.89" x2="306.9" y2="630.89" stroke="#b050b0" stroke-width="1.7"/>
<text transform="translate(310.20,635.49) scale(1,1.070)" font-size="12.60" fill="#111">9 min</text>
<line x1="280.0" y1="646.12" x2="306.9" y2="646.12" stroke="#1f7035" stroke-width="1.7"/>
<text transform="translate(310.20,650.72) scale(1,1.070)" font-size="12.60" fill="#111">12 min</text>
<line x1="280.0" y1="661.35" x2="306.9" y2="661.35" stroke="#1a1a50" stroke-width="1.7"/>
<text transform="translate(310.20,665.95) scale(1,1.070)" font-size="12.60" fill="#111">20 min</text>
<line x1="280.0" y1="676.58" x2="306.9" y2="676.58" stroke="#5a50a0" stroke-width="1.7"/>
<text transform="translate(310.20,681.18) scale(1,1.070)" font-size="12.60" fill="#111">30 min</text>
<line x1="280.0" y1="691.81" x2="306.9" y2="691.81" stroke="#7a1a7a" stroke-width="1.7"/>
<text transform="translate(310.20,696.41) scale(1,1.070)" font-size="12.60" fill="#111">40 min</text>
</svg></body></html>
